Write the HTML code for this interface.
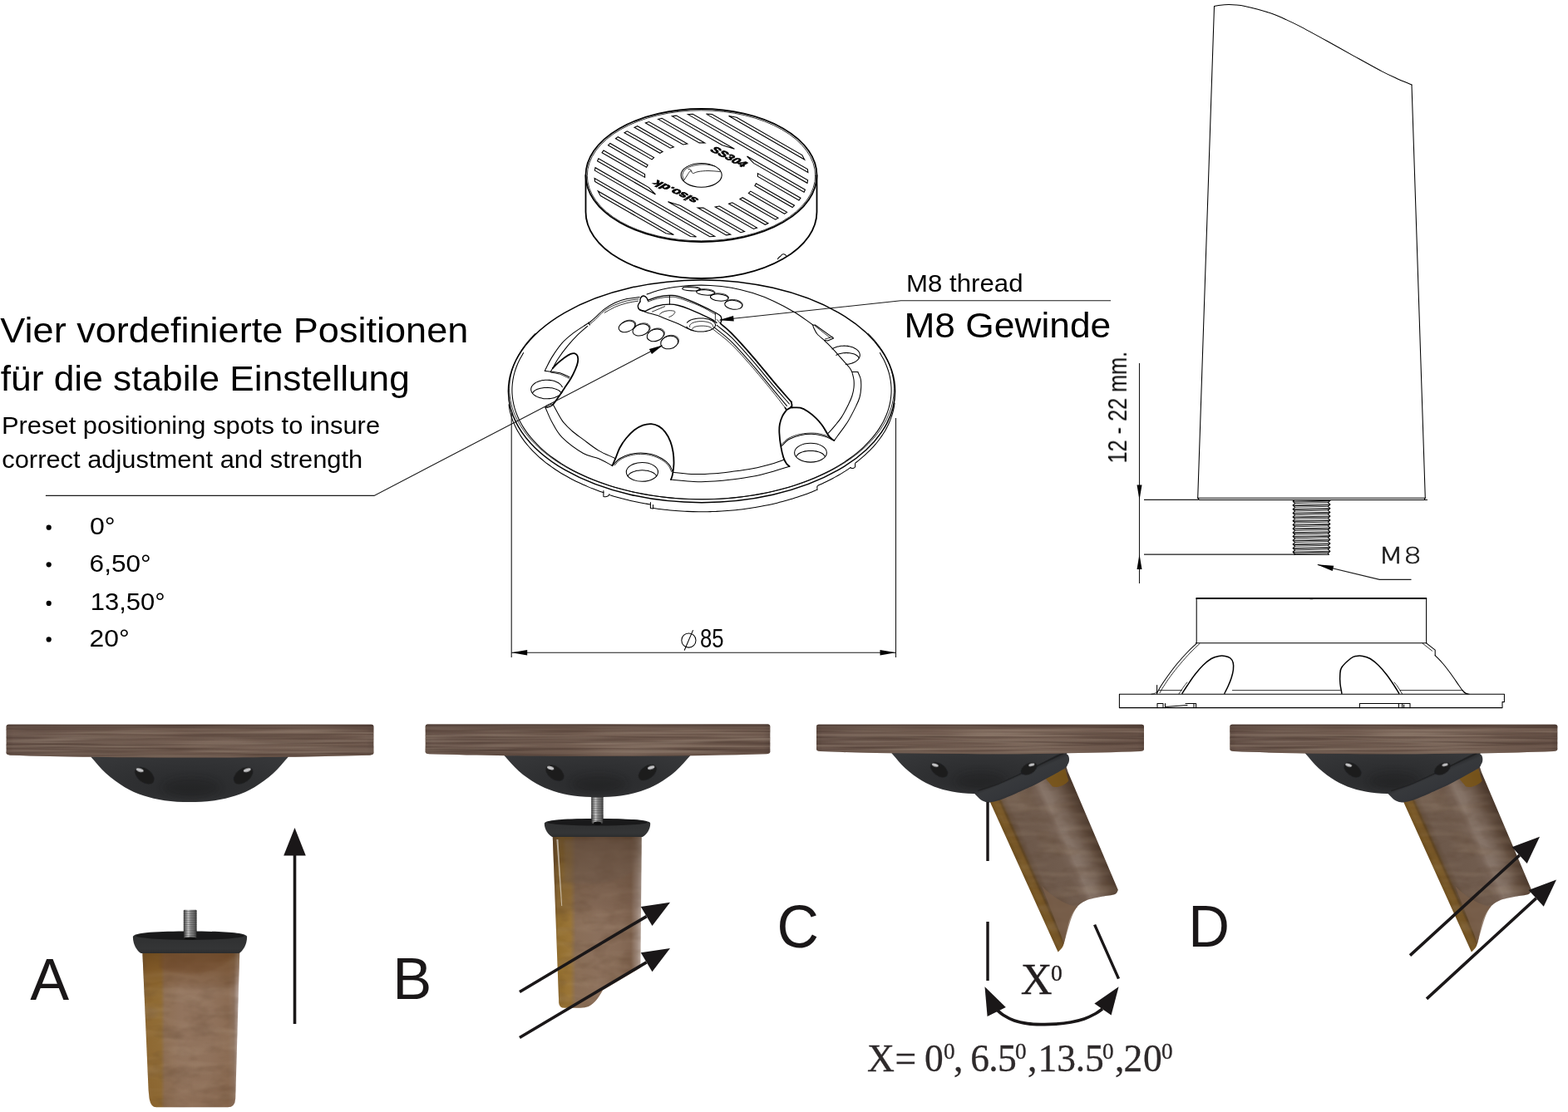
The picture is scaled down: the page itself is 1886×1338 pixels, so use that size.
<!DOCTYPE html>
<html lang="de">
<head>
<meta charset="utf-8">
<title>Vier vordefinierte Positionen</title>
<style>
html,body{margin:0;padding:0;background:#fff;}
body{width:1886px;height:1338px;overflow:hidden;}
svg{display:block;}
.l{fill:none;stroke:#000;stroke-width:1.05;stroke-linecap:round;stroke-linejoin:round;}
.t{fill:none;stroke:#000;stroke-width:1.8;stroke-linecap:round;stroke-linejoin:round;}
.t3{fill:none;stroke:#000;stroke-width:1.35;stroke-linecap:round;stroke-linejoin:round;}
.t2{fill:none;stroke:#000;stroke-width:1.5;}
.h{fill:none;stroke:#000;stroke-width:0.8;stroke-linecap:round;stroke-linejoin:round;}
.s{fill:none;stroke:#000;stroke-width:1.1;stroke-linejoin:miter;}
.d{fill:none;stroke:#1a1a1a;stroke-width:1.1;}
.k{fill:#000;stroke:none;}
.ar{fill:none;stroke:#1a1718;stroke-width:3.6;}
.ak{fill:#1a1718;stroke:none;}
</style>
</head>
<body>
<svg width="1886" height="1338" viewBox="0 0 1886 1338">
<rect width="1886" height="1338" fill="#fff"/>
<defs>
<linearGradient id="bw" x1="0" y1="0" x2="1" y2="0">
<stop offset="0" stop-color="#5c4940"/><stop offset="0.02" stop-color="#67534a"/><stop offset="0.25" stop-color="#6c584d"/>
<stop offset="0.48" stop-color="#745f53"/><stop offset="0.6" stop-color="#796458"/><stop offset="0.8" stop-color="#725d51"/><stop offset="0.98" stop-color="#6b564b"/><stop offset="1" stop-color="#5e4b42"/>
</linearGradient>
<linearGradient id="bv" x1="0" y1="0" x2="0" y2="1">
<stop offset="0" stop-color="#33241f" stop-opacity="0.5"/><stop offset="0.1" stop-color="#45322b" stop-opacity="0.32"/><stop offset="0.22" stop-color="#8a7060" stop-opacity="0.1"/>
<stop offset="0.5" stop-color="#6a5448" stop-opacity="0"/><stop offset="0.85" stop-color="#5a463c" stop-opacity="0.1"/><stop offset="1" stop-color="#4a382f" stop-opacity="0.28"/>
</linearGradient>
<filter id="grain" x="0" y="0" width="100%" height="100%" color-interpolation-filters="sRGB">
<feTurbulence type="fractalNoise" baseFrequency="0.005 0.22" numOctaves="3" seed="7" result="n"/>
<feColorMatrix in="n" type="matrix" values="0 0 0 0 0.27  0 0 0 0 0.2  0 0 0 0 0.17  0 0 0 -1.5 0.9" result="dk"/>
<feComposite in="dk" in2="SourceGraphic" operator="in" result="dkc"/>
<feTurbulence type="fractalNoise" baseFrequency="0.007 0.3" numOctaves="2" seed="23" result="n2"/>
<feColorMatrix in="n2" type="matrix" values="0 0 0 0 0.6  0 0 0 0 0.53  0 0 0 0 0.47  0 0 0 -1.4 0.82" result="lt"/>
<feComposite in="lt" in2="SourceGraphic" operator="in" result="ltc"/>
<feMerge><feMergeNode in="SourceGraphic"/><feMergeNode in="dkc"/><feMergeNode in="ltc"/></feMerge>
</filter>
<filter id="grainv" x="0" y="0" width="100%" height="100%" color-interpolation-filters="sRGB">
<feTurbulence type="fractalNoise" baseFrequency="0.035 0.06" numOctaves="3" seed="11" result="n"/>
<feColorMatrix in="n" type="matrix" values="0 0 0 0 0.3  0 0 0 0 0.2  0 0 0 0 0.12  0 0 0 -0.6 0.34" result="dk"/>
<feComposite in="dk" in2="SourceGraphic" operator="in" result="dkc"/>
<feTurbulence type="fractalNoise" baseFrequency="0.02 0.09" numOctaves="2" seed="5" result="n2"/>
<feColorMatrix in="n2" type="matrix" values="0 0 0 0 0.8  0 0 0 0 0.72  0 0 0 0 0.62  0 0 0 -0.4 0.22" result="lt"/>
<feComposite in="lt" in2="SourceGraphic" operator="in" result="ltc"/>
<feMerge><feMergeNode in="SourceGraphic"/><feMergeNode in="dkc"/><feMergeNode in="ltc"/></feMerge>
</filter>
<filter id="b1" x="-50%" y="-50%" width="200%" height="200%"><feGaussianBlur stdDeviation="0.7"/></filter>
<filter id="b2" x="-50%" y="-50%" width="200%" height="200%"><feGaussianBlur stdDeviation="1.6"/></filter>
<filter id="b4" x="-50%" y="-50%" width="200%" height="200%"><feGaussianBlur stdDeviation="4"/></filter>
<filter id="edge" x="-5%" y="-5%" width="110%" height="110%"><feGaussianBlur stdDeviation="0.6"/></filter>
<radialGradient id="dg" cx="0.5" cy="0.4" r="0.8" fx="0.5" fy="0.8">
<stop offset="0" stop-color="#28292b"/><stop offset="0.4" stop-color="#2f3032"/><stop offset="0.75" stop-color="#37383a"/><stop offset="1" stop-color="#3d3e40"/>
</radialGradient>
<linearGradient id="bg" x1="0" y1="0" x2="1" y2="0">
<stop offset="0" stop-color="#3c3c3c"/><stop offset="0.2" stop-color="#8e8e8e"/><stop offset="0.36" stop-color="#c6c6c6"/><stop offset="0.55" stop-color="#8a8a8a"/><stop offset="0.8" stop-color="#6a6a6a"/><stop offset="1" stop-color="#3a3a3a"/>
</linearGradient>
<linearGradient id="capg" x1="0" y1="0" x2="0" y2="1">
<stop offset="0" stop-color="#242526"/><stop offset="0.3" stop-color="#303132"/><stop offset="0.8" stop-color="#343536"/><stop offset="1" stop-color="#2b2c2d"/>
</linearGradient>
<linearGradient id="la" x1="0" y1="0" x2="1" y2="0">
<stop offset="0" stop-color="#7c5e34"/><stop offset="0.05" stop-color="#8a632a"/><stop offset="0.19" stop-color="#8d672e"/><stop offset="0.23" stop-color="#8a6a4e"/>
<stop offset="0.4" stop-color="#8e6f58"/><stop offset="0.7" stop-color="#8c6d56"/><stop offset="0.88" stop-color="#87674e"/><stop offset="0.94" stop-color="#8a6e5a"/><stop offset="0.975" stop-color="#a8948a"/><stop offset="1" stop-color="#c8bab4"/>
</linearGradient>
<linearGradient id="lav" gradientUnits="userSpaceOnUse" x1="0" y1="1146" x2="0" y2="1332">
<stop offset="0" stop-color="#5a3a16" stop-opacity="0.6"/><stop offset="0.1" stop-color="#6a4420" stop-opacity="0.42"/><stop offset="0.2" stop-color="#74502c" stop-opacity="0.15"/><stop offset="0.3" stop-color="#fff" stop-opacity="0.03"/><stop offset="1" stop-color="#7a5a40" stop-opacity="0.12"/>
</linearGradient>
<linearGradient id="lb" x1="0" y1="0" x2="1" y2="0">
<stop offset="0" stop-color="#70502a"/><stop offset="0.06" stop-color="#94702f"/><stop offset="0.2" stop-color="#9b7638"/><stop offset="0.26" stop-color="#8a6f59"/>
<stop offset="0.5" stop-color="#8c715e"/><stop offset="0.75" stop-color="#876c59"/><stop offset="0.88" stop-color="#806552"/><stop offset="0.95" stop-color="#a08c80"/><stop offset="1" stop-color="#c4b6ae"/>
</linearGradient>
<linearGradient id="lbv" gradientUnits="userSpaceOnUse" x1="0" y1="1006" x2="0" y2="1212">
<stop offset="0" stop-color="#3a2616" stop-opacity="0.55"/><stop offset="0.2" stop-color="#4a3422" stop-opacity="0.36"/><stop offset="0.4" stop-color="#5a4030" stop-opacity="0.22"/><stop offset="0.5" stop-color="#6a4a30" stop-opacity="0.04"/><stop offset="1" stop-color="#9a6a28" stop-opacity="0.06"/>
</linearGradient>
<linearGradient id="lc" gradientUnits="userSpaceOnUse" x1="1212" y1="1010" x2="1301" y2="970">
<stop offset="0" stop-color="#70501f"/><stop offset="0.04" stop-color="#7a5a28"/><stop offset="0.085" stop-color="#775626"/><stop offset="0.11" stop-color="#5f4522"/><stop offset="0.14" stop-color="#65503f"/><stop offset="0.2" stop-color="#6d594b"/>
<stop offset="0.5" stop-color="#705c4e"/><stop offset="0.57" stop-color="#756154"/><stop offset="0.64" stop-color="#877569"/><stop offset="0.7" stop-color="#847266"/><stop offset="0.8" stop-color="#746154"/><stop offset="0.9" stop-color="#5e4a3c"/><stop offset="1" stop-color="#4a382c"/>
</linearGradient>
<linearGradient id="band" gradientUnits="userSpaceOnUse" x1="1225" y1="928" x2="1236" y2="954">
<stop offset="0" stop-color="#27282a"/><stop offset="0.25" stop-color="#37393c"/><stop offset="0.7" stop-color="#34363a"/><stop offset="1" stop-color="#2a2b2e"/>
</linearGradient>
</defs>
<g id="figA">
<path d="M171.3,1145 L288.3,1145 L283.2,1322 Q282.6,1332.3 274,1332.3 L188,1332.3 Q181.5,1332.3 179.6,1322 L178.6,1312 Z" fill="url(#la)" filter="url(#grainv)"/>
<path d="M171.3,1145 L288.3,1145 L283.2,1322 Q282.6,1332.3 274,1332.3 L188,1332.3 Q181.5,1332.3 179.6,1322 L178.6,1312 Z" fill="url(#lav)"/>
<path d="M192,1146 L192,1164 C215,1176 262,1174 279,1152 L280,1146 Z" fill="#70492a" opacity="0.4" filter="url(#b2)"/>
<rect x="220.8" y="1094.8" width="15.8" height="29.2" rx="1" fill="url(#bg)"/>
<rect x="220.8" y="1096.13" width="15.8" height="1" fill="#303030" opacity="0.4"/>
<rect x="220.8" y="1098.78" width="15.8" height="1" fill="#303030" opacity="0.4"/>
<rect x="220.8" y="1101.44" width="15.8" height="1" fill="#303030" opacity="0.4"/>
<rect x="220.8" y="1104.09" width="15.8" height="1" fill="#303030" opacity="0.4"/>
<rect x="220.8" y="1106.75" width="15.8" height="1" fill="#303030" opacity="0.4"/>
<rect x="220.8" y="1109.4" width="15.8" height="1" fill="#303030" opacity="0.4"/>
<rect x="220.8" y="1112.05" width="15.8" height="1" fill="#303030" opacity="0.4"/>
<rect x="220.8" y="1114.71" width="15.8" height="1" fill="#303030" opacity="0.4"/>
<rect x="220.8" y="1117.36" width="15.8" height="1" fill="#303030" opacity="0.4"/>
<rect x="220.8" y="1120.02" width="15.8" height="1" fill="#303030" opacity="0.4"/>
<rect x="220.8" y="1122.67" width="15.8" height="1" fill="#303030" opacity="0.4"/>
<path d="M159.9,1127.46 C159.9,1121.8 190.77,1120.6 228.5,1120.6 C266.23,1120.6 297.1,1121.8 297.1,1127.46 C297.1,1136.26 292.5,1144 287.5,1147 L169.5,1147 C164.5,1144 159.9,1136.26 159.9,1127.46Z" fill="url(#capg)"/>
<ellipse cx="228.5" cy="1125.95" rx="65.1" ry="4.94" fill="#19191a"/>
<rect x="221.2" y="1118" width="15" height="11.5" rx="1" fill="url(#bg)"/>
<rect x="221.2" y="1119.44" width="15" height="1" fill="#303030" opacity="0.4"/>
<rect x="221.2" y="1122.31" width="15" height="1" fill="#303030" opacity="0.4"/>
<rect x="221.2" y="1125.19" width="15" height="1" fill="#303030" opacity="0.4"/>
<rect x="221.2" y="1128.06" width="15" height="1" fill="#303030" opacity="0.4"/>
<ellipse cx="228.7" cy="1129.3" rx="7.5" ry="1.8" fill="#111"/>
<path d="M109.3,910.8 C115.44,917.48 120.92,924.78 127.71,930.84 C134.49,936.91 142.56,942.81 150.02,947.21 C157.47,951.6 164.42,954.57 172.43,957.23 C180.43,959.89 188.77,961.86 198.04,963.16 C207.31,964.45 218.05,965 228.05,965 C238.05,965 248.79,964.45 258.06,963.16 C267.33,961.86 275.67,959.89 283.67,957.23 C291.68,954.57 298.63,951.6 306.08,947.21 C313.54,942.81 321.61,936.91 328.39,930.84 C335.18,924.78 340.66,917.48 346.8,910.8 L346.8,905.8 L109.3,905.8Z" fill="url(#dg)"/>
<ellipse cx="230.05" cy="947.62" rx="34.01" ry="12.27" fill="#1a1b1d" opacity="0.32" filter="url(#b4)"/>
<path d="M10.2,871.8 L446.8,871.8 Q449.4,871.8 449.4,874.4 L449.4,905.8 Q449.4,908.4 444.8,908.7 C325.7,912.4 131.3,912.4 12.2,908.7 Q7.6,908.4 7.6,905.8 L7.6,874.4 Q7.6,871.8 10.2,871.8Z" fill="url(#bw)" filter="url(#grain)"/>
<path d="M10.2,871.8 L446.8,871.8 Q449.4,871.8 449.4,874.4 L449.4,905.8 Q449.4,908.4 444.8,908.7 C325.7,912.4 131.3,912.4 12.2,908.7 Q7.6,908.4 7.6,905.8 L7.6,874.4 Q7.6,871.8 10.2,871.8Z" fill="url(#bv)"/>
<ellipse cx="173.9" cy="933.2" rx="13.2" ry="8.2" transform="rotate(37 173.9 933.2)" fill="#1b1c1e" filter="url(#b1)"/>
<ellipse cx="168.2" cy="926.6" rx="4.49" ry="2.13" transform="rotate(16.65 168.2 926.6)" fill="#c4c4c6" filter="url(#b1)"/>
<ellipse cx="292.6" cy="933.2" rx="13.2" ry="8.2" transform="rotate(-37 292.6 933.2)" fill="#1b1c1e" filter="url(#b1)"/>
<ellipse cx="297.3" cy="926.6" rx="4.49" ry="2.13" transform="rotate(-16.65 297.3 926.6)" fill="#c4c4c6" filter="url(#b1)"/>
<path class="ar" d="M354.5,1232 L354.5,1026"/>
<polygon class="ak" points="354.5,996 367.8,1029.6 341.2,1029.6"/>
</g>
<g id="figB">
<path d="M664.7,1005 L771.8,1005 L770.4,1164.5 L725,1191.6 C721,1199 716,1207 708,1211 Q704,1212.8 698,1212.8 L679,1212.8 Q672.6,1212.8 672.2,1206.5 Z" fill="url(#lb)" filter="url(#grainv)"/>
<path d="M664.7,1005 L771.8,1005 L770.4,1164.5 L725,1191.6 C721,1199 716,1207 708,1211 Q704,1212.8 698,1212.8 L679,1212.8 Q672.6,1212.8 672.2,1206.5 Z" fill="url(#lbv)"/>
<path d="M669.4,1010 L671.4,1010 L676.2,1090 L675.2,1090 Z" fill="#fff" opacity="0.55" filter="url(#b1)"/>
<path d="M679,1060 C700,1066 745,1066 762,1046 L762,1010 L679,1010Z" fill="#6e5a4e" opacity="0.35" filter="url(#b2)"/>
<rect x="711.2" y="955" width="14.4" height="37" rx="1" fill="url(#bg)"/>
<rect x="711.2" y="956.32" width="14.4" height="1" fill="#303030" opacity="0.4"/>
<rect x="711.2" y="958.96" width="14.4" height="1" fill="#303030" opacity="0.4"/>
<rect x="711.2" y="961.61" width="14.4" height="1" fill="#303030" opacity="0.4"/>
<rect x="711.2" y="964.25" width="14.4" height="1" fill="#303030" opacity="0.4"/>
<rect x="711.2" y="966.89" width="14.4" height="1" fill="#303030" opacity="0.4"/>
<rect x="711.2" y="969.54" width="14.4" height="1" fill="#303030" opacity="0.4"/>
<rect x="711.2" y="972.18" width="14.4" height="1" fill="#303030" opacity="0.4"/>
<rect x="711.2" y="974.82" width="14.4" height="1" fill="#303030" opacity="0.4"/>
<rect x="711.2" y="977.46" width="14.4" height="1" fill="#303030" opacity="0.4"/>
<rect x="711.2" y="980.11" width="14.4" height="1" fill="#303030" opacity="0.4"/>
<rect x="711.2" y="982.75" width="14.4" height="1" fill="#303030" opacity="0.4"/>
<rect x="711.2" y="985.39" width="14.4" height="1" fill="#303030" opacity="0.4"/>
<rect x="711.2" y="988.04" width="14.4" height="1" fill="#303030" opacity="0.4"/>
<rect x="711.2" y="990.68" width="14.4" height="1" fill="#303030" opacity="0.4"/>
<path d="M606.6,909.3 C612.38,915.45 617.54,922.17 623.93,927.75 C630.32,933.34 637.92,938.77 644.93,942.82 C651.95,946.87 658.5,949.6 666.03,952.04 C673.57,954.49 681.42,956.31 690.14,957.51 C698.87,958.7 708.98,959.2 718.4,959.2 C727.82,959.2 737.93,958.7 746.66,957.51 C755.38,956.31 763.23,954.49 770.77,952.04 C778.3,949.6 784.85,946.87 791.87,942.82 C798.88,938.77 806.48,933.34 812.87,927.75 C819.26,922.17 824.42,915.45 830.2,909.3 L830.2,904.3 L606.6,904.3Z" fill="url(#dg)"/>
<ellipse cx="720.28" cy="943.19" rx="32.02" ry="11.3" fill="#1a1b1d" opacity="0.32" filter="url(#b4)"/>
<path d="M514.3,871.6 L923.7,871.6 Q926.3,871.6 926.3,874.2 L926.3,904.4 Q926.3,907 921.7,907.3 C810.21,910.73 627.79,910.73 516.3,907.3 Q511.7,907 511.7,904.4 L511.7,874.2 Q511.7,871.6 514.3,871.6Z" fill="url(#bw)" filter="url(#grain)"/>
<path d="M514.3,871.6 L923.7,871.6 Q926.3,871.6 926.3,874.2 L926.3,904.4 Q926.3,907 921.7,907.3 C810.21,910.73 627.79,910.73 516.3,907.3 Q511.7,907 511.7,904.4 L511.7,874.2 Q511.7,871.6 514.3,871.6Z" fill="url(#bv)"/>
<ellipse cx="667.4" cy="930" rx="12.4" ry="7.7" transform="rotate(37 667.4 930)" fill="#1b1c1e" filter="url(#b1)"/>
<ellipse cx="662.2" cy="924" rx="4.22" ry="2" transform="rotate(16.65 662.2 924)" fill="#c4c4c6" filter="url(#b1)"/>
<ellipse cx="778.8" cy="929.4" rx="12.4" ry="7.7" transform="rotate(-37 778.8 929.4)" fill="#1b1c1e" filter="url(#b1)"/>
<ellipse cx="783.2" cy="923.6" rx="4.22" ry="2" transform="rotate(-16.65 783.2 923.6)" fill="#c4c4c6" filter="url(#b1)"/>
<path d="M654.8,990.65 C654.8,986.1 683.47,984.9 718.5,984.9 C753.53,984.9 782.2,986.1 782.2,990.65 C782.2,998.01 777.9,1004 772.9,1007 L664.1,1007 C659.1,1004 654.8,998.01 654.8,990.65Z" fill="url(#capg)"/>
<ellipse cx="718.5" cy="989.38" rx="60.2" ry="4.14" fill="#19191a"/>
<rect x="711.6" y="980" width="13.6" height="10.8" rx="1" fill="url(#bg)"/>
<rect x="711.6" y="981.35" width="13.6" height="1" fill="#303030" opacity="0.4"/>
<rect x="711.6" y="984.05" width="13.6" height="1" fill="#303030" opacity="0.4"/>
<rect x="711.6" y="986.75" width="13.6" height="1" fill="#303030" opacity="0.4"/>
<rect x="711.6" y="989.45" width="13.6" height="1" fill="#303030" opacity="0.4"/>
<ellipse cx="718.6" cy="990.4" rx="4.6" ry="2" fill="#0e0e0e"/>
<path class="ar" d="M625,1193.5 L777.65,1102.59"/>
<polygon class="ak" points="806,1085.7 784.5,1114.1 770.79,1091.07"/>
<path class="ar" d="M625,1248.5 L777.63,1157.85"/>
<polygon class="ak" points="806,1141 784.47,1169.37 770.78,1146.33"/>
</g>
<g id="figC">
<path d="M1188.6,960 L1272.6,1145.6 L1272.6,1145.6 C1274.67,1143.07 1277.12,1142 1278.8,1138 C1280.48,1134 1281.4,1126.93 1282.7,1121.6 C1284,1116.27 1284.65,1110.87 1286.6,1106 C1288.55,1101.13 1291.17,1096.12 1294.4,1092.4 C1297.63,1088.68 1300.82,1085.97 1306,1083.7 C1311.18,1081.43 1319.67,1080.1 1325.5,1078.8 C1331.33,1077.5 1337.77,1077.2 1341,1075.9 C1344.23,1074.6 1343.6,1072.63 1344.9,1071 L1284.7,929.2 L1280,915 Z" fill="url(#lc)" filter="url(#grainv)"/>
<path d="M1257,936 L1281,925 L1285.4,939.5 C1281,945 1272,948.4 1266,946.6 Z" fill="#7a5418" opacity="0.85" filter="url(#b1)"/>
<path d="M1253,1066 C1264,1078 1282,1089 1296,1091 C1288,1100 1284,1122 1279.5,1136 L1276,1125 Z" fill="#7a5f49" opacity="0.75" filter="url(#b1)"/>
<path d="M1072.6,906.6 C1078.05,912.59 1082.92,919.13 1088.94,924.57 C1094.96,930.01 1102.12,935.3 1108.74,939.24 C1115.35,943.19 1121.53,945.85 1128.63,948.23 C1135.73,950.62 1143.13,952.39 1151.36,953.55 C1159.59,954.71 1169.12,955.2 1178,955.2 C1186.88,955.2 1196.41,954.71 1204.64,953.55 C1212.87,952.39 1220.27,950.62 1227.37,948.23 C1234.47,945.85 1240.65,943.19 1247.26,939.24 C1253.88,935.3 1261.04,930.01 1267.06,924.57 C1273.08,919.13 1277.95,912.59 1283.4,906.6 L1283.4,901.6 L1072.6,901.6Z" fill="url(#dg)"/>
<ellipse cx="1179.78" cy="939.61" rx="30.19" ry="11" fill="#1a1b1d" opacity="0.32" filter="url(#b4)"/>
<ellipse cx="1129.6" cy="926.3" rx="11.8" ry="7.3" transform="rotate(37 1129.6 926.3)" fill="#1b1c1e" filter="url(#b1)"/>
<ellipse cx="1124.8" cy="920.6" rx="4.01" ry="1.9" transform="rotate(16.65 1124.8 920.6)" fill="#c4c4c6" filter="url(#b1)"/>
<path d="M1169.5,952 C1176.33,950.17 1181.75,949.42 1190,946.5 C1198.25,943.58 1209,939 1219,934.5 C1229,930 1241.83,923.58 1250,919.5 C1258.17,915.42 1263.5,912.25 1268,910 C1272.5,907.75 1274,907.33 1277,906 L1282,906.4 C1283.07,907.4 1284.53,908.05 1285.2,909.4 C1285.87,910.75 1286.13,912.82 1286,914.5 C1285.87,916.18 1285.6,917.65 1284.4,919.5 C1283.2,921.35 1284.92,921.72 1278.8,925.6 C1272.68,929.48 1255.83,938.57 1247.7,942.8 C1239.57,947.03 1236.47,948.08 1230,951 C1223.53,953.92 1214.57,958.03 1208.9,960.3 C1203.23,962.57 1199.57,963.78 1196,964.6 C1192.43,965.42 1190.17,965.57 1187.5,965.2 C1184.83,964.83 1182.27,963.8 1180,962.4 C1177.73,961 1175.93,958.67 1173.9,956.8Z" fill="url(#band)"/>
<path d="M1176,951.5 C1184,948.83 1191,947.08 1200,943.5 C1209,939.92 1220,934.67 1230,930 C1240,925.33 1251.83,919.42 1260,915.5 C1268.17,911.58 1272.67,909.5 1279,906.5" fill="none" stroke="#1c1d1f" stroke-width="1.6" opacity="0.7" filter="url(#b1)"/>
<ellipse cx="1237.6" cy="925" rx="10.6" ry="6.4" transform="rotate(-30 1237.6 925)" fill="#1b1c1e" filter="url(#b1)"/>
<ellipse cx="1240.8" cy="920.2" rx="3.6" ry="1.66" transform="rotate(-13.5 1240.8 920.2)" fill="#c4c4c6" filter="url(#b1)"/>
<path d="M984.6,871.8 L1373.4,871.8 Q1376,871.8 1376,874.4 L1376,901.2 Q1376,903.8 1371.4,904.1 C1265.68,908.33 1092.32,908.33 986.6,904.1 Q982,903.8 982,901.2 L982,874.4 Q982,871.8 984.6,871.8Z" fill="url(#bw)" filter="url(#grain)"/>
<path d="M984.6,871.8 L1373.4,871.8 Q1376,871.8 1376,874.4 L1376,901.2 Q1376,903.8 1371.4,904.1 C1265.68,908.33 1092.32,908.33 986.6,904.1 Q982,903.8 982,901.2 L982,874.4 Q982,871.8 984.6,871.8Z" fill="url(#bv)"/>
<path class="ar" style="stroke-width:3.4" d="M1188,965 L1188,1036 M1188,1109 L1188,1180 M1316.6,1112.6 L1345.5,1177.6"/>
<path class="ar" style="stroke-width:3.7" d="M1198,1214 C1201,1216.5 1203.33,1219.17 1207,1221.5 C1210.67,1223.83 1215.17,1226.32 1220,1228 C1224.83,1229.68 1230.67,1230.83 1236,1231.6 C1241.33,1232.37 1246.33,1232.5 1252,1232.6 C1257.67,1232.7 1264,1232.63 1270,1232.2 C1276,1231.77 1282.33,1231.03 1288,1230 C1293.67,1228.97 1299,1227.75 1304,1226 C1309,1224.25 1314.33,1221.5 1318,1219.5 C1321.67,1217.5 1323.33,1215.83 1326,1214"/>
<polygon class="ak" points="1184.5,1187.2 1187.6,1223 1209.8,1212"/>
<polygon class="ak" points="1345.6,1187.2 1316.4,1207.6 1336.6,1221.6"/>
</g>
<g id="figD" transform="translate(497.3,0)">
<path d="M1188.6,960 L1272.6,1145.6 L1272.6,1145.6 C1274.67,1143.07 1277.12,1142 1278.8,1138 C1280.48,1134 1281.4,1126.93 1282.7,1121.6 C1284,1116.27 1284.65,1110.87 1286.6,1106 C1288.55,1101.13 1291.17,1096.12 1294.4,1092.4 C1297.63,1088.68 1300.82,1085.97 1306,1083.7 C1311.18,1081.43 1319.67,1080.1 1325.5,1078.8 C1331.33,1077.5 1337.77,1077.2 1341,1075.9 C1344.23,1074.6 1343.6,1072.63 1344.9,1071 L1284.7,929.2 L1280,915 Z" fill="url(#lc)" filter="url(#grainv)"/>
<path d="M1257,936 L1281,925 L1285.4,939.5 C1281,945 1272,948.4 1266,946.6 Z" fill="#7a5418" opacity="0.85" filter="url(#b1)"/>
<path d="M1253,1066 C1264,1078 1282,1089 1296,1091 C1288,1100 1284,1122 1279.5,1136 L1276,1125 Z" fill="#7a5f49" opacity="0.75" filter="url(#b1)"/>
<path d="M1072.6,906.6 C1078.05,912.59 1082.92,919.13 1088.94,924.57 C1094.96,930.01 1102.12,935.3 1108.74,939.24 C1115.35,943.19 1121.53,945.85 1128.63,948.23 C1135.73,950.62 1143.13,952.39 1151.36,953.55 C1159.59,954.71 1169.12,955.2 1178,955.2 C1186.88,955.2 1196.41,954.71 1204.64,953.55 C1212.87,952.39 1220.27,950.62 1227.37,948.23 C1234.47,945.85 1240.65,943.19 1247.26,939.24 C1253.88,935.3 1261.04,930.01 1267.06,924.57 C1273.08,919.13 1277.95,912.59 1283.4,906.6 L1283.4,901.6 L1072.6,901.6Z" fill="url(#dg)"/>
<ellipse cx="1179.78" cy="939.61" rx="30.19" ry="11" fill="#1a1b1d" opacity="0.32" filter="url(#b4)"/>
<ellipse cx="1129.6" cy="926.3" rx="11.8" ry="7.3" transform="rotate(37 1129.6 926.3)" fill="#1b1c1e" filter="url(#b1)"/>
<ellipse cx="1124.8" cy="920.6" rx="4.01" ry="1.9" transform="rotate(16.65 1124.8 920.6)" fill="#c4c4c6" filter="url(#b1)"/>
<path d="M1169.5,952 C1176.33,950.17 1181.75,949.42 1190,946.5 C1198.25,943.58 1209,939 1219,934.5 C1229,930 1241.83,923.58 1250,919.5 C1258.17,915.42 1263.5,912.25 1268,910 C1272.5,907.75 1274,907.33 1277,906 L1282,906.4 C1283.07,907.4 1284.53,908.05 1285.2,909.4 C1285.87,910.75 1286.13,912.82 1286,914.5 C1285.87,916.18 1285.6,917.65 1284.4,919.5 C1283.2,921.35 1284.92,921.72 1278.8,925.6 C1272.68,929.48 1255.83,938.57 1247.7,942.8 C1239.57,947.03 1236.47,948.08 1230,951 C1223.53,953.92 1214.57,958.03 1208.9,960.3 C1203.23,962.57 1199.57,963.78 1196,964.6 C1192.43,965.42 1190.17,965.57 1187.5,965.2 C1184.83,964.83 1182.27,963.8 1180,962.4 C1177.73,961 1175.93,958.67 1173.9,956.8Z" fill="url(#band)"/>
<path d="M1176,951.5 C1184,948.83 1191,947.08 1200,943.5 C1209,939.92 1220,934.67 1230,930 C1240,925.33 1251.83,919.42 1260,915.5 C1268.17,911.58 1272.67,909.5 1279,906.5" fill="none" stroke="#1c1d1f" stroke-width="1.6" opacity="0.7" filter="url(#b1)"/>
<ellipse cx="1237.6" cy="925" rx="10.6" ry="6.4" transform="rotate(-30 1237.6 925)" fill="#1b1c1e" filter="url(#b1)"/>
<ellipse cx="1240.8" cy="920.2" rx="3.6" ry="1.66" transform="rotate(-13.5 1240.8 920.2)" fill="#c4c4c6" filter="url(#b1)"/>
<path d="M984.6,871.8 L1373.4,871.8 Q1376,871.8 1376,874.4 L1376,901.2 Q1376,903.8 1371.4,904.1 C1265.68,908.33 1092.32,908.33 986.6,904.1 Q982,903.8 982,901.2 L982,874.4 Q982,871.8 984.6,871.8Z" fill="url(#bw)" filter="url(#grain)"/>
<path d="M984.6,871.8 L1373.4,871.8 Q1376,871.8 1376,874.4 L1376,901.2 Q1376,903.8 1371.4,904.1 C1265.68,908.33 1092.32,908.33 986.6,904.1 Q982,903.8 982,901.2 L982,874.4 Q982,871.8 984.6,871.8Z" fill="url(#bv)"/>
<path class="ar" d="M1198.7,1149.7 L1330.37,1029.09"/>
<polygon class="ak" points="1354.7,1006.8 1339.42,1038.97 1321.31,1019.21"/>
<path class="ar" d="M1218.7,1201.8 L1350.4,1080.82"/>
<polygon class="ak" points="1374.7,1058.5 1359.46,1090.69 1341.33,1070.96"/>
</g>
<g id="disc" style="opacity:0.999">
<ellipse class="t" cx="843.5" cy="211.0" rx="139.0" ry="79.99"/>
<ellipse class="h" cx="843.5" cy="211.3" rx="137.2" ry="78.49"/>
<path class="t" d="M704.5,211.0 L704.5,255.0 A139.0,79.99 0 0 0 982.5,255.0 L982.5,211.0" />
<path class="l" d="M935.5,311.8 C936,309.5 938.5,309 939.5,307.5 C941,305 944,305.5 945.5,307.5" style="fill:#fff"/>
<ellipse class="l" cx="843.6" cy="210.8" rx="24.6" ry="14.4"/>
<path class="h" d="M822.5,217 C822,214.5 820.42,211.92 821,209.5 C821.58,207.08 823.17,204.33 826,202.5 C828.83,200.67 834,199.25 838,198.5 C842,197.75 846.33,197.75 850,198 C853.67,198.25 856.67,199.33 860,200" />
<path class="h" d="M823,216.5 C824.17,214.67 825.42,212.67 826.5,211 C827.58,209.33 828.67,207.33 829.5,206.5 C830.33,205.67 830.83,205.67 831.5,206 C832.17,206.33 832.08,208.42 833.5,208.5 C834.92,208.58 836.92,207 840,206.5 C843.08,206 847.67,205.5 852,205.5 C856.33,205.5 861.33,206.17 866,206.5" />
<path class="h" d="M828,203.5 C828.83,203.67 829.92,203.58 830.5,204 C831.08,204.42 831.17,205.33 831.5,206" />
<path class="s" d="M722.23,235.46 L801,280.79 L810.4,282.46 L719.34,230.05Z" />
<path class="s" d="M715.66,218.48 L830.51,284.57 L837.53,284.87 L715.14,214.44Z" />
<path class="s" d="M715.4,205.14 L853.69,284.72 L859.59,284.37 L716.01,201.74Z" />
<path class="s" d="M718.55,193.75 L788.47,233.99 L780.42,225.61 L719.9,190.78Z" />
<path class="s" d="M803.56,242.67 L873.48,282.91 L878.63,282.13 L818.11,247.3Z" />
<path class="s" d="M724.06,183.72 L775.63,213.4 L775.54,209.61 L725.98,181.09Z" />
<path class="s" d="M839.33,250.06 L890.9,279.74 L895.48,278.63 L845.92,250.11Z" />
<path class="s" d="M731.46,174.79 L777.6,201.34 L779.09,198.45 L733.87,172.43Z" />
<path class="s" d="M860.28,248.92 L906.43,275.48 L910.53,274.09 L865.3,248.07Z" />
<path class="s" d="M740.49,166.79 L784.14,191.91 L786.6,189.58 L743.33,164.68Z" />
<path class="s" d="M876.68,245.16 L920.32,270.28 L923.99,268.65 L880.73,243.75Z" />
<path class="s" d="M751.02,159.65 L793.82,184.28 L797.07,182.41 L754.28,157.78Z" />
<path class="s" d="M889.93,239.59 L932.72,264.22 L935.98,262.35 L893.18,237.72Z" />
<path class="s" d="M763.01,153.35 L806.27,178.25 L810.32,176.84 L766.68,151.72Z" />
<path class="s" d="M900.4,232.42 L943.67,257.32 L946.51,255.21 L902.86,230.09Z" />
<path class="s" d="M776.47,147.91 L821.7,173.93 L826.72,173.08 L780.57,146.52Z" />
<path class="s" d="M907.91,223.55 L953.13,249.57 L955.54,247.21 L909.4,220.66Z" />
<path class="s" d="M791.52,143.37 L841.08,171.89 L847.67,171.94 L796.1,142.26Z" />
<path class="s" d="M911.46,212.39 L961.02,240.91 L962.94,238.28 L911.37,208.6Z" />
<path class="s" d="M808.37,139.87 L868.89,174.7 L883.44,179.33 L813.52,139.09Z" />
<path class="s" d="M906.58,196.39 L967.1,231.22 L968.45,228.25 L898.53,188.01Z" />
<path class="s" d="M827.41,137.63 L970.99,220.26 L971.6,216.86 L833.31,137.28Z" />
<path class="s" d="M849.47,137.13 L971.86,207.56 L971.34,203.52 L856.49,137.43Z" />
<path class="s" d="M876.6,139.54 L967.66,191.95 L964.77,186.54 L886,141.21Z" />
<text transform="translate(873.5,191.5) rotate(27) skewX(-20)" font-family='"Liberation Sans", Arial, sans-serif' font-size="11.5" font-weight="bold" font-style="italic" text-anchor="middle" fill="#000" stroke="#000" stroke-width="0.7" textLength="45" lengthAdjust="spacingAndGlyphs">SS304</text>
<text transform="translate(815.5,228) rotate(205) skewX(-20)" font-family='"Liberation Sans", Arial, sans-serif' font-size="11.5" font-weight="bold" font-style="italic" text-anchor="middle" fill="#000" stroke="#000" stroke-width="0.7" textLength="56" lengthAdjust="spacingAndGlyphs">siso.dk</text>
</g>
<g id="base">
<ellipse class="t2" cx="844" cy="470.8" rx="232.6" ry="133.86"/>
<path class="h" d="M1044.31,401.14 C1046.84,403.88 1049.53,406.57 1051.89,409.35 C1054.25,412.13 1056.44,414.97 1058.46,417.83 C1060.47,420.7 1062.32,423.62 1063.98,426.57 C1065.64,429.51 1067.13,432.49 1068.43,435.5 C1069.73,438.5 1070.85,441.54 1071.79,444.59 C1072.72,447.63 1073.47,450.71 1074.03,453.79 C1074.6,456.86 1074.97,459.96 1075.16,463.05 C1075.35,466.15 1075.35,469.25 1075.16,472.35 C1074.97,475.44 1074.6,478.54 1074.03,481.61 C1073.47,484.69 1072.72,487.77 1071.79,490.81 C1070.85,493.86 1069.73,496.9 1068.43,499.9 C1067.13,502.91 1065.64,505.89 1063.98,508.83 C1062.32,511.78 1060.47,514.7 1058.46,517.57 C1056.44,520.43 1054.25,523.27 1051.89,526.05 C1049.53,528.83 1047,531.58 1044.31,534.26 C1041.62,536.94 1038.76,539.57 1035.76,542.14 C1032.75,544.7 1029.58,547.21 1026.27,549.65 C1022.96,552.09 1019.49,554.47 1015.89,556.77 C1012.29,559.07 1008.54,561.3 1004.67,563.45 C1000.81,565.6 996.8,567.68 992.68,569.67 C988.56,571.66 984.31,573.57 979.95,575.39 C975.6,577.21 971.13,578.95 966.57,580.59 C962.01,582.23 957.34,583.78 952.59,585.23 C947.84,586.69 942.99,588.05 938.08,589.3 C933.16,590.56 928.16,591.73 923.11,592.79 C918.06,593.84 912.92,594.8 907.75,595.66 C902.59,596.51 897.35,597.26 892.09,597.9 C886.83,598.55 881.52,599.09 876.19,599.52 C870.86,599.95 865.5,600.27 860.13,600.49 C854.77,600.7 849.38,600.81 844,600.81 C838.62,600.81 833.23,600.7 827.87,600.49 C822.5,600.27 817.14,599.95 811.81,599.52 C806.48,599.09 801.17,598.55 795.91,597.9 C790.65,597.26 785.41,596.51 780.25,595.66 C775.08,594.8 769.94,593.84 764.89,592.79 C759.84,591.73 754.84,590.56 749.92,589.3 C745.01,588.05 740.16,586.69 735.41,585.23 C730.66,583.78 725.99,582.23 721.43,580.59 C716.87,578.95 712.4,577.21 708.05,575.39 C703.69,573.57 699.44,571.66 695.32,569.67 C691.2,567.68 687.19,565.6 683.33,563.45 C679.46,561.3 675.71,559.07 672.11,556.77 C668.51,554.47 665.04,552.09 661.73,549.65 C658.42,547.21 655.25,544.7 652.24,542.14 C649.24,539.57 646.38,536.94 643.69,534.26 C641,531.58 638.47,528.83 636.11,526.05 C633.75,523.27 631.56,520.43 629.54,517.57 C627.53,514.7 625.68,511.78 624.02,508.83 C622.36,505.89 620.87,502.91 619.57,499.9 C618.27,496.9 617.15,493.86 616.21,490.81 C615.28,487.77 614.53,484.69 613.97,481.61 C613.4,478.54 613.03,475.44 612.84,472.35 C612.65,469.25 612.65,466.15 612.84,463.05 C613.03,459.96 613.4,456.86 613.97,453.79 C614.53,450.71 615.28,447.63 616.21,444.59 C617.15,441.54 618.27,438.5 619.57,435.5 C620.87,432.49 622.36,429.51 624.02,426.57 C625.68,423.62 627.53,420.7 629.54,417.83 C631.56,414.97 633.75,412.13 636.11,409.35 C638.47,406.57 641.16,403.88 643.69,401.14" />
<path class="l" d="M1058.34,424.6 C1059.86,427.26 1061.53,429.9 1062.89,432.58 C1064.26,435.27 1065.48,437.98 1066.55,440.71 C1067.61,443.45 1068.53,446.2 1069.29,448.96 C1070.05,451.73 1070.66,454.51 1071.11,457.3 C1071.56,460.08 1071.86,462.88 1072,465.68 C1072.14,468.48 1072.13,471.28 1071.96,474.08 C1071.79,476.88 1071.47,479.68 1070.99,482.46 C1070.51,485.25 1069.87,488.03 1069.08,490.79 C1068.29,493.55 1067.35,496.3 1066.25,499.03 C1065.16,501.76 1063.91,504.47 1062.52,507.15 C1061.12,509.83 1059.58,512.49 1057.89,515.11 C1056.2,517.74 1054.36,520.34 1052.38,522.89 C1050.4,525.45 1048.28,527.97 1046.02,530.45 C1043.76,532.93 1041.36,535.37 1038.83,537.76 C1036.3,540.15 1033.64,542.5 1030.85,544.79 C1028.06,547.09 1025.14,549.33 1022.1,551.52 C1019.06,553.7 1015.9,555.84 1012.62,557.9 C1009.35,559.97 1005.95,561.98 1002.45,563.93 C998.95,565.87 995.34,567.76 991.63,569.57 C987.93,571.38 984.11,573.12 980.21,574.8 C976.31,576.47 972.31,578.07 968.23,579.59 C964.15,581.12 959.98,582.57 955.74,583.94 C951.5,585.31 947.18,586.61 942.8,587.82 C938.42,589.03 933.96,590.16 929.45,591.21 C924.94,592.26 920.36,593.23 915.75,594.11 C911.13,594.99 906.46,595.79 901.75,596.49 C897.05,597.2 892.3,597.83 887.52,598.36 C882.75,598.89 877.94,599.34 873.12,599.7 C868.29,600.05 863.44,600.32 858.59,600.5 C853.73,600.68 848.86,600.77 844,600.77 C839.14,600.77 834.27,600.68 829.41,600.5 C824.56,600.32 819.71,600.05 814.88,599.7 C810.06,599.34 805.25,598.89 800.48,598.36 C795.7,597.83 790.95,597.2 786.25,596.49 C781.54,595.79 776.87,594.99 772.25,594.11 C767.64,593.23 763.06,592.26 758.55,591.21 C754.04,590.16 749.58,589.03 745.2,587.82 C740.82,586.61 736.5,585.31 732.26,583.94 C728.02,582.57 723.85,581.12 719.77,579.59 C715.69,578.07 711.69,576.47 707.79,574.8 C703.89,573.12 700.07,571.38 696.37,569.57 C692.66,567.76 689.05,565.87 685.55,563.93 C682.05,561.98 678.65,559.97 675.38,557.9 C672.1,555.84 668.94,553.7 665.9,551.52 C662.86,549.33 659.94,547.09 657.15,544.79 C654.36,542.5 651.7,540.15 649.17,537.76 C646.64,535.37 644.24,532.93 641.98,530.45 C639.72,527.97 637.6,525.45 635.62,522.89 C633.64,520.34 631.8,517.74 630.11,515.11 C628.42,512.49 626.88,509.83 625.48,507.15 C624.09,504.47 622.84,501.76 621.75,499.03 C620.65,496.3 619.71,493.55 618.92,490.79 C618.13,488.03 617.49,485.25 617.01,482.46 C616.53,479.68 616.21,476.88 616.04,474.08 C615.87,471.28 615.86,468.48 616,465.68 C616.14,462.88 616.44,460.08 616.89,457.3 C617.34,454.51 617.95,451.73 618.71,448.96 C619.47,446.2 620.39,443.45 621.45,440.71 C622.52,437.98 623.74,435.27 625.11,432.58 C626.47,429.9 628.14,427.26 629.66,424.6" />
<path class="l" d="M982.68,589.37 C980.81,590.14 978.96,590.93 977.07,591.69 C975.18,592.45 973.27,593.19 971.34,593.92 C969.41,594.64 967.46,595.35 965.5,596.05 C963.53,596.74 961.55,597.42 959.55,598.08 C957.55,598.73 955.53,599.38 953.5,600 C951.46,600.63 949.41,601.23 947.35,601.82 C945.28,602.41 943.2,602.98 941.11,603.54 C939.02,604.09 936.91,604.63 934.78,605.14 C932.66,605.66 930.53,606.16 928.38,606.64 C926.23,607.12 924.07,607.59 921.9,608.03 C919.73,608.48 917.54,608.9 915.35,609.31 C913.16,609.71 910.95,610.1 908.74,610.47 C906.52,610.84 904.3,611.19 902.07,611.52 C899.84,611.85 897.6,612.17 895.35,612.46 C893.1,612.75 890.84,613.03 888.58,613.28 C886.32,613.53 884.05,613.77 881.78,613.98 C879.5,614.2 877.22,614.4 874.94,614.57 C872.65,614.75 870.36,614.91 868.07,615.04 C865.78,615.18 863.48,615.3 861.18,615.4 C858.89,615.49 856.58,615.57 854.28,615.63 C851.98,615.69 849.67,615.73 847.37,615.75 C845.06,615.77 842.76,615.77 840.45,615.75 C838.15,615.73 835.85,615.69 833.54,615.63 C831.24,615.57 828.94,615.49 826.64,615.39 C824.34,615.29 822.05,615.17 819.75,615.03 C817.46,614.89 815.17,614.74 812.89,614.56 C810.6,614.38 808.32,614.18 806.05,613.97 C803.78,613.75 801.51,613.52 799.25,613.26 C796.98,613 794.73,612.73 792.48,612.44 C790.23,612.14 788,611.81 785.76,611.5" />
<path class="l" d="M782.23,606.96 C780.55,606.68 778.87,606.41 777.2,606.12 C775.53,605.83 773.86,605.53 772.2,605.22 C770.54,604.91 768.89,604.59 767.24,604.26 C765.59,603.93 763.95,603.59 762.31,603.23 C760.68,602.88 759.05,602.52 757.43,602.14 C755.81,601.77 754.2,601.39 752.59,600.99 C750.99,600.6 749.39,600.19 747.8,599.78 C746.21,599.36 744.63,598.94 743.06,598.5 C741.49,598.06 739.92,597.62 738.37,597.16 C736.81,596.7 735.27,596.23 733.73,595.76" />
<path class="l" d="M725.95,592.74 C723.81,591.99 721.65,591.26 719.54,590.49 C717.42,589.71 715.33,588.92 713.26,588.11 C711.19,587.3 709.14,586.48 707.12,585.63 C705.09,584.78 703.09,583.91 701.12,583.03 C699.14,582.14 697.19,581.24 695.27,580.32 C693.34,579.4 691.44,578.46 689.57,577.5 C687.7,576.54 685.85,575.57 684.04,574.58 C682.22,573.59 680.43,572.58 678.67,571.56 C676.91,570.53 675.17,569.49 673.47,568.44 C671.77,567.38 670.1,566.31 668.45,565.22 C666.81,564.13 665.2,563.03 663.62,561.91 C662.04,560.8 660.49,559.66 658.97,558.52 C657.46,557.37 655.97,556.21 654.52,555.04 C653.07,553.87 651.65,552.68 650.26,551.48 C648.88,550.28 647.53,549.06 646.21,547.84 C644.89,546.61 643.61,545.38 642.36,544.13 C641.11,542.88 639.9,541.62 638.72,540.35 C637.54,539.08 636.4,537.79 635.3,536.5 C634.19,535.21 633.12,533.9 632.09,532.59 C631.06,531.28 630.06,529.96 629.11,528.63 C628.15,527.3 627.23,525.96 626.34,524.61 C625.46,523.26 624.62,521.9 623.81,520.54 C623,519.18 622.23,517.8 621.5,516.43 C620.77,515.05 620.08,513.66 619.43,512.27 C618.78,510.88 618.17,509.48 617.59,508.08 C617.02,506.68 616.48,505.27 615.99,503.86 C615.49,502.45 615.04,501.03 614.62,499.61 C614.21,498.19 613.83,496.76 613.5,495.34 C613.16,493.91 612.87,492.48 612.61,491.04 C612.36,489.61 612.18,488.17 611.97,486.74" />
<path class="l" d="M1023.22,562.53 C1022.08,563.3 1020.96,564.08 1019.81,564.84 C1018.66,565.61 1017.49,566.37 1016.31,567.12 C1015.13,567.87 1013.93,568.61 1012.72,569.34 C1011.51,570.08 1010.29,570.8 1009.05,571.52 C1007.81,572.24 1006.55,572.95 1005.29,573.65 C1004.02,574.36 1002.74,575.05 1001.44,575.73 C1000.15,576.42 998.84,577.1 997.52,577.77 C996.19,578.43 994.86,579.09 993.51,579.74 C992.16,580.39 990.8,581.04 989.43,581.67 C988.06,582.3 986.66,582.92 985.28,583.54" />
<path class="l" d="M1076.03,485.14 C1075.88,486.21 1075.75,487.29 1075.57,488.37 C1075.4,489.44 1075.2,490.52 1074.98,491.59 C1074.75,492.66 1074.51,493.74 1074.24,494.81 C1073.98,495.88 1073.69,496.94 1073.38,498.01 C1073.06,499.07 1072.73,500.14 1072.37,501.2 C1072.02,502.26 1071.64,503.32 1071.24,504.37 C1070.84,505.43 1070.42,506.48 1069.97,507.53 C1069.53,508.58 1069.06,509.63 1068.57,510.67 C1068.08,511.71 1067.57,512.75 1067.04,513.79 C1066.5,514.83 1065.95,515.86 1065.37,516.89 C1064.8,517.92 1064.2,518.94 1063.58,519.96 C1062.96,520.98 1062.32,522 1061.66,523.01 C1060.99,524.02 1060.31,525.03 1059.61,526.03 C1058.9,527.03 1058.18,528.02 1057.43,529.02 C1056.68,530.01 1055.92,530.99 1055.13,531.97 C1054.34,532.96 1053.53,533.93 1052.7,534.9 C1051.87,535.87 1051.02,536.83 1050.15,537.79 C1049.29,538.75 1048.4,539.7 1047.49,540.65 C1046.58,541.59 1045.65,542.53 1044.7,543.46 C1043.75,544.4 1042.78,545.32 1041.79,546.24 C1040.8,547.16 1039.8,548.07 1038.77,548.98 C1037.74,549.88 1036.7,550.78 1035.63,551.67 C1034.57,552.56 1033.49,553.44 1032.39,554.32 C1031.28,555.19 1030.15,556.05 1029.03,556.92" />
<path class="l" d="M725.9,590.4 L725.9,597.4 C729,598.2 732.4,597.4 732.9,594.6" />
<path class="l" d="M782.4,604.4 L782.4,611.4 L785.5,612 L785.5,607.6" />
<path class="l" d="M982.9,589.4 L982.9,585.2 L984.9,583.6" />
<path class="l" d="M1023.3,562.8 C1025,564.3 1027.5,563.4 1028.6,561.8 L1028.6,557.6" />
<path class="l" d="M655.3,446.3 C658.03,441 660.02,436.02 663.5,430.4 C666.98,424.78 671.95,417.47 676.2,412.6 C680.45,407.73 684.33,404.8 689,401.2 C693.67,397.6 700.93,393.13 704.2,391 C707.47,388.87 707.13,389.27 708.6,388.4" />
<path class="l" d="M664.8,443.1 C666.93,439.3 668.23,436.15 671.2,431.7 C674.17,427.25 678.58,421.28 682.6,416.4 C686.62,411.52 691.28,406.42 695.3,402.4 C699.32,398.38 702.9,395.67 706.7,392.3" />
<path class="l" d="M708.2,388.8 C710.27,387 711.25,386.22 714.4,383.4 C717.55,380.58 722.87,375.08 727.1,371.9 C731.33,368.72 735.32,366.35 739.8,364.3 C744.28,362.25 749.1,360.72 754,359.6 C758.9,358.48 764.13,358.27 769.2,357.6" />
<path class="h" d="M709.2,390.3 C711.47,388.4 713.02,387.35 716,384.6 C718.98,381.85 723.13,376.77 727.1,373.8 C731.07,370.83 735.32,368.77 739.8,366.8 C744.28,364.83 749.3,363.17 754,362 C758.7,360.83 763.33,360.53 768,359.8" />
<path class="h" d="M727.1,376.3 C731.33,374 735.32,371.35 739.8,369.4 C744.28,367.45 749.38,365.8 754,364.6 C758.62,363.4 763,363 767.5,362.2" />
<path class="l" d="M707.6,388 L709.4,391" />
<path class="l" d="M778.1,354.1 C782.07,352.73 785.77,351.22 790,350 C794.23,348.78 797.02,347.87 803.5,346.8 C809.98,345.73 820.42,344.17 828.9,343.6 C837.38,343.03 845.92,342.97 854.4,343.4 C862.88,343.83 871.3,344.67 879.8,346.2 C888.3,347.73 896.9,349.9 905.4,352.6 C913.9,355.3 922.33,358.5 930.8,362.4 C939.27,366.3 948.37,371.23 956.2,376 C964.03,380.77 970.6,386 977.8,391" />
<path class="l" d="M977.8,391.6 C978.2,392.73 978.13,393.27 979,395 C979.87,396.73 980.87,399.57 983,402 C985.13,404.43 988.87,407.07 991.8,409.6" />
<path class="l" d="M977.8,391.3 L980.4,391 L1002.6,406.9 L995.6,410 L991.8,409.4" />
<path class="h" d="M980.4,392.3 L998.2,406.2 M992.4,408 L1001.5,405.4" />
<path class="l" d="M991.8,409.8 C995.2,413.27 998.4,416.35 1002,420.2 C1005.6,424.05 1010.15,429.27 1013.4,432.9 C1016.65,436.53 1019.6,439.57 1021.5,442 C1023.4,444.43 1023.7,445.67 1024.8,447.5" />
<path class="l" d="M1024.8,447.5 L1031.8,447.5" />
<path class="l" d="M1031.8,447.5 C1032.93,450.33 1034.55,452.83 1035.2,456 C1035.85,459.17 1035.9,462.83 1035.7,466.5 C1035.5,470.17 1034.97,474.4 1034,478 C1033.03,481.6 1032.27,483.23 1029.9,488.1 C1027.53,492.97 1023.6,501.05 1019.8,507.2 C1016,513.35 1009.85,521.18 1007.1,525 C1004.35,528.82 1004.57,528.4 1003.3,530.1" />
<path class="l" d="M1024.8,447.5 C1025.53,450.67 1026.63,453.83 1027,457 C1027.37,460.17 1027.33,463.33 1027,466.5 C1026.67,469.67 1026,472.82 1025,476 C1024,479.18 1023.15,481.25 1021,485.6 C1018.85,489.95 1015.27,497.23 1012.1,502.1 C1008.93,506.97 1004.63,511.62 1002,514.8 C999.37,517.98 998.2,519.07 996.3,521.2" />
<path class="l" d="M949.6,561.2 C943.33,563.1 938.17,564.88 930.8,566.9 C923.43,568.92 913.87,571.6 905.4,573.3 C896.93,575 887.6,576.15 880,577.1 C872.4,578.05 867.4,578.58 859.8,579 C852.2,579.42 843.2,579.92 834.4,579.6 C825.6,579.28 816.13,577.93 807,577.1" />
<path class="l" d="M942.9,553.2 C938.87,554.6 937.05,555.65 930.8,557.4 C924.55,559.15 913.87,562.02 905.4,563.7 C896.93,565.38 887.6,566.5 880,567.5 C872.4,568.5 867.4,569.2 859.8,569.7 C852.2,570.2 842.62,570.72 834.4,570.5 C826.18,570.28 818.47,569.1 810.5,568.4" />
<path class="l" d="M655.9,490.2 C658.6,496.13 660.62,501.97 664,508 C667.38,514.03 669.93,520.15 676.2,526.4 C682.47,532.65 694.3,541.28 701.6,545.5 C708.9,549.72 714.18,549.23 720,551.7 C725.82,554.17 731,557.43 736.5,560.3" />
<path class="l" d="M665.4,487 C669,493.37 672.43,500.85 676.2,506.1 C679.97,511.35 683.77,514.7 688,518.5 C692.23,522.3 696.27,524.97 701.6,528.9 C706.93,532.83 713.55,538.3 720,542.1 C726.45,545.9 733.53,548.5 740.3,551.7" />
<path class="l" d="M655.9,490.2 C658,489.5 662,488.5 665.4,486.6" />
<ellipse class="h" cx="660.6" cy="488.3" rx="4.6" ry="1.6" transform="rotate(-18 660.6 488.3)"/>
<path class="t" d="M664.8,443.1 C666.93,440.97 668.87,438.82 671.2,436.7 C673.53,434.58 676.27,432.2 678.8,430.4 C681.33,428.6 684.28,426.75 686.4,425.9 C688.52,425.05 690.12,424.87 691.5,425.3 C692.88,425.73 694.12,426.8 694.7,428.5 C695.28,430.2 695.43,432.85 695,435.5 C694.57,438.15 693.53,441.02 692.1,444.4 C690.67,447.78 688.62,452 686.4,455.8 C684.18,459.6 681.33,463.4 678.8,467.2 C676.27,471 673.43,475.4 671.2,478.6 C668.97,481.8 667.33,483.8 665.4,486.4" />
<path class="l" d="M655.3,446.3 L662.3,447.2 L664.8,443.1" />
<path class="l" d="M662.3,446.9 C666.1,447.53 669.9,447.63 673.7,448.8 C677.5,449.97 681.3,452.2 685.1,453.9" />
<path class="h" d="M662.6,448.2 C666.2,448.87 669.77,449.03 673.4,450.2 C677.03,451.37 680.73,453.53 684.4,455.2" />
<path class="l" d="M676.33,471.23 C676.05,471.75 675.82,472.28 675.47,472.79 C675.12,473.29 674.71,473.78 674.24,474.25 C673.77,474.72 673.24,475.17 672.66,475.6 C672.09,476.02 671.45,476.42 670.78,476.79 C670.1,477.16 669.38,477.5 668.62,477.81 C667.86,478.12 667.06,478.4 666.23,478.64 C665.41,478.88 664.55,479.09 663.67,479.25 C662.8,479.42 661.89,479.55 660.99,479.64 C660.08,479.73 659.15,479.78 658.23,479.8 C657.31,479.81 656.38,479.78 655.47,479.72 C654.56,479.65 653.65,479.54 652.76,479.4 C651.87,479.26 651,479.07 650.15,478.85 C649.31,478.64 648.49,478.38 647.71,478.09 C646.93,477.81 646.17,477.48 645.47,477.13 C644.77,476.78 644.1,476.39 643.49,475.99 C642.89,475.58 642.32,475.14 641.82,474.69 C641.31,474.23 640.86,473.75 640.48,473.26 C640.09,472.76 639.76,472.25 639.5,471.73 C639.23,471.21 639.03,470.67 638.9,470.13 C638.77,469.59 638.7,469.04 638.7,468.5 C638.7,467.96 638.77,467.41 638.9,466.87 C639.03,466.33 639.23,465.79 639.5,465.27 C639.76,464.75 640.09,464.24 640.48,463.74 C640.86,463.25 641.31,462.77 641.82,462.31 C642.32,461.86 642.89,461.42 643.49,461.01 C644.1,460.61 644.77,460.22 645.47,459.87 C646.17,459.52 646.93,459.19 647.71,458.91 C648.49,458.62 649.31,458.36 650.15,458.15 C651,457.93 651.87,457.74 652.76,457.6 C653.65,457.46 654.56,457.35 655.47,457.28 C656.38,457.22 657.31,457.19 658.23,457.2 C659.15,457.22 660.08,457.27 660.99,457.36 C661.89,457.45 662.8,457.58 663.67,457.75 C664.55,457.91 665.41,458.12 666.23,458.36 C667.06,458.6 667.86,458.88 668.62,459.19 C669.38,459.5 670.1,459.84 670.78,460.21 C671.45,460.58 672.09,460.98 672.66,461.4 C673.24,461.83 673.77,462.28 674.24,462.75 C674.71,463.22 675.12,463.71 675.47,464.21 C675.82,464.72 676.05,465.25 676.33,465.77" />
<path class="l" d="M640.47,473.18 C640.73,472.72 640.91,472.25 641.25,471.81 C641.59,471.37 642.02,470.94 642.52,470.53 C643.02,470.12 643.6,469.73 644.24,469.37 C644.89,469.01 645.6,468.67 646.37,468.36 C647.13,468.06 647.97,467.78 648.83,467.54 C649.7,467.3 650.62,467.1 651.56,466.93 C652.51,466.77 653.49,466.64 654.48,466.55 C655.47,466.46 656.49,466.41 657.49,466.4 C658.5,466.39 659.52,466.43 660.52,466.5 C661.51,466.57 662.5,466.68 663.46,466.84 C664.41,466.99 665.35,467.18 666.23,467.4 C667.11,467.63 667.97,467.89 668.76,468.18 C669.54,468.47 670.29,468.8 670.96,469.15 C671.62,469.5 672.24,469.89 672.77,470.29 C673.3,470.68 673.76,471.11 674.13,471.54 C674.51,471.98 674.72,472.45 675.02,472.9" />
<path class="t" d="M736.5,560.3 C737.77,557.43 738.82,555.25 740.3,551.7 C741.78,548.15 743.28,543.03 745.4,539 C747.52,534.97 750.03,531.12 753,527.5 C755.97,523.88 759.8,519.95 763.2,517.3 C766.6,514.65 770.02,512.8 773.4,511.6 C776.78,510.4 780.33,509.88 783.5,510.1 C786.67,510.32 789.63,511.27 792.4,512.9 C795.17,514.53 797.77,516.83 800.1,519.9 C802.43,522.97 804.82,527.28 806.4,531.3 C807.98,535.32 808.92,539.55 809.6,544 C810.28,548.45 810.6,553.55 810.5,558 C810.4,562.45 809.58,567.52 809,570.7 C808.42,573.88 807.67,574.97 807,577.1" />
<path class="l" d="M737.8,559.3 C740.33,556.77 742.02,553.82 745.4,551.7 C748.78,549.58 753.87,547.72 758.1,546.6 C762.33,545.48 766.57,545 770.8,545 C775.03,545 779.27,545.48 783.5,546.6 C787.73,547.72 792.6,549.58 796.2,551.7 C799.8,553.82 802.98,556.77 805.1,559.3 C807.22,561.83 807.63,564.37 808.9,566.9" />
<path class="h" d="M739.5,559.8 C741.67,557.53 742.9,554.97 746,553 C749.1,551.03 753.97,549.1 758.1,548 C762.23,546.9 766.57,546.4 770.8,546.4 C775.03,546.4 779.37,546.9 783.5,548 C787.63,549.1 792.18,550.95 795.6,553 C799.02,555.05 802,557.88 804,560.3 C806,562.72 806.4,565.1 807.6,567.5" />
<ellipse class="l" cx="772.4" cy="567.9" rx="19.1" ry="11.4"/>
<path class="l" d="M755.38,572.61 C755.67,572.15 755.87,571.66 756.24,571.21 C756.6,570.76 757.05,570.32 757.56,569.91 C758.08,569.49 758.67,569.09 759.32,568.73 C759.97,568.36 760.69,568.02 761.45,567.72 C762.21,567.41 763.04,567.13 763.9,566.9 C764.75,566.66 765.67,566.46 766.59,566.29 C767.52,566.13 768.49,566.01 769.45,565.92 C770.42,565.84 771.42,565.8 772.4,565.8 C773.38,565.8 774.38,565.84 775.35,565.92 C776.31,566.01 777.28,566.13 778.21,566.29 C779.13,566.46 780.05,566.66 780.9,566.9 C781.76,567.13 782.59,567.41 783.35,567.72 C784.11,568.02 784.83,568.36 785.48,568.73 C786.13,569.09 786.72,569.49 787.24,569.91 C787.75,570.32 788.2,570.76 788.56,571.21 C788.93,571.66 789.13,572.15 789.42,572.61" />
<path class="t" d="M953.1,490.4 C956.27,490.5 959.53,489.92 962.6,490.7 C965.67,491.48 968.32,492.98 971.5,495.1 C974.68,497.22 978.73,500.53 981.7,503.4 C984.67,506.27 986.98,509.13 989.3,512.3 C991.62,515.47 993.92,519.87 995.6,522.4 C997.28,524.93 998.12,526.22 999.4,527.5 C1000.68,528.78 1002,529.23 1003.3,530.1" />
<path class="t" d="M946.1,493.2 C944.4,495.73 942.38,497.83 941,500.8 C939.62,503.77 938.4,507.6 937.8,511 C937.2,514.4 937.18,516.97 937.4,521.2 C937.62,525.43 938.28,531.53 939.1,536.4 C939.92,541.27 941.13,546.8 942.3,550.4 C943.47,554 944.88,556.2 946.1,558 C947.32,559.8 948.43,560.13 949.6,561.2" />
<path class="l" d="M940.4,536.4 C943.13,533.87 944.9,530.92 948.6,528.8 C952.3,526.68 957.52,524.77 962.6,523.7 C967.68,522.63 974.23,522.18 979.1,522.4 C983.97,522.62 987.98,523.83 991.8,525 C995.62,526.17 998.6,527.93 1002,529.4" />
<path class="h" d="M939.8,535 C942.6,532.5 944.43,529.6 948.2,527.5 C951.97,525.4 957.25,523.47 962.4,522.4 C967.55,521.33 974.17,520.9 979.1,521.1 C984.03,521.3 988.43,522.55 992,523.6 C995.57,524.65 997.67,526.13 1000.5,527.4" />
<path class="h" d="M989.3,512.3 C990.87,515.2 992.63,518.72 994,521 C995.37,523.28 996.17,524.6 997.5,526 C998.83,527.4 1000.5,528.27 1002,529.4" />
<ellipse class="l" cx="975" cy="544.7" rx="19.4" ry="11.4"/>
<path class="l" d="M957.78,549.21 C958.07,548.75 958.28,548.26 958.65,547.81 C959.02,547.36 959.47,546.92 959.99,546.51 C960.51,546.09 961.11,545.69 961.77,545.33 C962.42,544.96 963.15,544.62 963.92,544.32 C964.7,544.01 965.53,543.73 966.4,543.5 C967.27,543.26 968.19,543.06 969.12,542.89 C970.06,542.73 971.04,542.61 972.02,542.52 C973,542.44 974.01,542.4 975,542.4 C975.99,542.4 977,542.44 977.98,542.52 C978.96,542.61 979.94,542.73 980.88,542.89 C981.81,543.06 982.73,543.26 983.6,543.5 C984.47,543.73 985.3,544.01 986.08,544.32 C986.85,544.62 987.58,544.96 988.23,545.33 C988.89,545.69 989.49,546.09 990.01,546.51 C990.53,546.92 990.98,547.36 991.35,547.81 C991.72,548.26 991.93,548.75 992.22,549.21" />
<path class="l" d="M1000.96,419.95 C1001.44,419.66 1001.89,419.36 1002.39,419.08 C1002.89,418.81 1003.42,418.55 1003.97,418.31 C1004.52,418.07 1005.09,417.85 1005.68,417.64 C1006.27,417.44 1006.88,417.25 1007.5,417.09 C1008.13,416.92 1008.77,416.77 1009.42,416.65 C1010.07,416.53 1010.73,416.42 1011.4,416.34 C1012.07,416.26 1012.75,416.19 1013.43,416.15 C1014.11,416.11 1014.8,416.1 1015.48,416.1 C1016.17,416.1 1016.85,416.13 1017.53,416.18 C1018.21,416.22 1018.89,416.29 1019.56,416.38 C1020.22,416.47 1020.88,416.59 1021.53,416.72 C1022.17,416.85 1022.81,417 1023.43,417.18 C1024.05,417.35 1024.65,417.54 1025.24,417.75 C1025.82,417.96 1026.38,418.19 1026.92,418.44 C1027.47,418.69 1027.99,418.95 1028.48,419.23 C1028.97,419.51 1029.44,419.81 1029.88,420.12 C1030.32,420.43 1030.73,420.75 1031.11,421.09 C1031.49,421.42 1031.84,421.77 1032.15,422.13 C1032.47,422.49 1032.75,422.86 1033,423.23 C1033.25,423.61 1033.46,423.99 1033.64,424.38 C1033.82,424.77 1033.96,425.17 1034.07,425.56 C1034.18,425.96 1034.25,426.37 1034.28,426.77 C1034.31,427.17 1034.31,427.58 1034.27,427.98 C1034.22,428.38 1034.14,428.78 1034.03,429.18 C1033.92,429.58 1033.76,429.97 1033.58,430.36 C1033.39,430.75 1033.17,431.13 1032.91,431.51 C1032.65,431.88 1032.36,432.25 1032.04,432.6 C1031.71,432.96 1031.36,433.3 1030.97,433.63 C1030.58,433.97 1030.16,434.29 1029.72,434.59 C1029.27,434.9 1028.8,435.19 1028.3,435.47 C1027.8,435.74 1027.27,436.01 1026.73,436.25 C1026.18,436.49 1025.61,436.72 1025.02,436.92 C1024.44,437.13 1023.83,437.32 1023.2,437.48 C1022.58,437.65 1021.94,437.8 1021.29,437.93 C1020.65,438.06 1019.98,438.16 1019.31,438.25 C1018.65,438.33 1017.96,438.37 1017.29,438.44" />
<path class="l" d="M1005.76,427.37 C1006.35,427.07 1006.88,426.75 1007.51,426.49 C1008.14,426.22 1008.83,425.97 1009.54,425.75 C1010.26,425.54 1011.03,425.34 1011.81,425.19 C1012.6,425.03 1013.42,424.9 1014.25,424.81 C1015.08,424.71 1015.94,424.65 1016.79,424.62 C1017.64,424.59 1018.51,424.59 1019.36,424.63 C1020.21,424.67 1021.06,424.74 1021.89,424.85 C1022.71,424.95 1023.53,425.09 1024.3,425.25 C1025.08,425.42 1025.84,425.62 1026.54,425.84 C1027.25,426.06 1027.93,426.32 1028.54,426.6 C1029.16,426.87 1029.73,427.18 1030.25,427.5 C1030.76,427.82 1031.21,428.16 1031.6,428.52 C1031.99,428.87 1032.32,429.25 1032.58,429.63 C1032.84,430.01 1032.96,430.41 1033.15,430.8" />
<path class="t" d="M867,389.7 C871.33,393.53 873.6,394.63 880,401.2 C886.4,407.77 896.93,419.37 905.4,429.1 C913.87,438.83 923.07,450.5 930.8,459.6 C938.53,468.7 944.8,475.67 951.8,483.7" />
<path class="l" d="M862,391.2 C868,396.2 872.77,399.03 880,406.2 C887.23,413.37 896.93,424.45 905.4,434.2 C913.87,443.95 923.47,456.07 930.8,464.7 C938.13,473.33 943.2,478.9 949.4,486" />
<path class="l" d="M858.8,393.6 C865.87,399.5 872.23,403.68 880,411.3 C887.77,418.92 896.93,429.55 905.4,439.3 C913.87,449.05 923.97,461.62 930.8,469.8 C937.63,477.98 941.2,482.2 946.4,488.4" />
<path class="h" d="M857.5,396 C865,402.17 872.02,406.77 880,414.5 C887.98,422.23 896.93,432.65 905.4,442.4 C913.87,452.15 924.28,464.93 930.8,473 C937.32,481.07 939.93,484.87 944.5,490.8" />
<path class="t" d="M951.8,483.7 L952.6,488 L950.6,490.6 L953.1,490.4 M944.5,490.8 L946.1,493.2 L950.6,490.6" />
<path class="t3" d="M769.9,363 C770.1,361.53 769.87,359.77 770.5,358.6 C771.13,357.43 772.53,356.1 773.7,356 C774.87,355.9 776.55,357.03 777.5,358 C778.45,358.97 778.77,360.53 779.4,361.8" />
<path class="t3" d="M779.4,361.1 C783.2,359.83 786.47,358.25 790.8,357.3 C795.13,356.35 801.17,355.5 805.4,355.4 C809.63,355.3 810.15,354.8 816.2,356.7 C822.25,358.6 834.07,363.42 841.7,366.8 C849.33,370.18 857.77,374.67 862,377 C866.23,379.33 866.15,379.32 867.1,380.8 C868.05,382.28 867.82,384.52 867.7,385.9 C867.58,387.28 866.83,388.03 866.4,389.1" />
<path class="h" d="M779.4,363 C783.2,361.73 786.47,360.15 790.8,359.2 C795.13,358.25 801.17,357.4 805.4,357.3 C809.63,357.2 810.15,356.8 816.2,358.6 C822.25,360.4 834.28,364.82 841.7,368.1 C849.12,371.38 854.37,374.9 860.7,378.3" />
<path class="l" d="M805.4,355.4 L805.4,366.2" />
<path class="h" d="M860.4,376.5 L860.4,385.5 M866.4,389.1 L862.3,384.5" />
<path class="t3" d="M769.9,363 C769.03,364.7 767.42,366.5 767.3,368.1 C767.18,369.7 767.82,371.53 769.2,372.6 C770.58,373.67 773.47,373.87 775.6,374.5" />
<path class="t3" d="M775.6,374.5 C780.67,372.37 785.83,369.48 790.8,368.1 C795.77,366.72 801.2,366.3 805.4,366.2 C809.6,366.1 812.08,366.55 816,367.5 C819.92,368.45 822.5,369.25 828.9,371.9 C835.3,374.55 848.88,380.65 854.4,383.4 C859.92,386.15 859.47,386.73 862,388.4" />
<path class="l" d="M769.2,372.6 C772.13,373.73 774.4,374.83 778,376 C781.6,377.17 786.63,378.18 790.8,379.6 C794.97,381.02 798.77,382.82 803,384.5 C807.23,386.18 811.88,387.77 816.2,389.7 C820.52,391.63 825.93,394.78 828.9,396.1 C831.87,397.42 832.3,397.1 834,397.6" />
<path class="h" d="M784.5,375.1 L799.7,368.7" />
<path class="h" d="M793.4,378.3 C794.6,377.37 795.32,376.25 797,375.5 C798.68,374.75 801.42,374.05 803.5,373.8 C805.58,373.55 808.12,373.78 809.5,374 C810.88,374.22 811.55,374.52 811.8,375.1 C812.05,375.68 811.63,376.68 811,377.5 C810.37,378.32 809.03,379.33 808,380 C806.97,380.67 805.87,381 804.8,381.5" />
<path class="l" d="M826.36,388.23 C826.74,387.84 827.06,387.44 827.51,387.07 C827.96,386.7 828.47,386.34 829.04,386.01 C829.61,385.67 830.24,385.36 830.92,385.07 C831.59,384.78 832.32,384.51 833.09,384.28 C833.85,384.04 834.67,383.83 835.5,383.65 C836.34,383.47 837.21,383.32 838.1,383.21 C838.98,383.09 839.9,383.01 840.81,382.96 C841.73,382.91 842.66,382.89 843.58,382.91 C844.5,382.92 845.43,382.97 846.33,383.06 C847.24,383.14 848.14,383.26 849,383.4 C849.86,383.55 850.71,383.73 851.51,383.94 C852.32,384.14 853.09,384.38 853.82,384.65 C854.54,384.91 855.22,385.2 855.85,385.51 C856.47,385.82 857.05,386.16 857.56,386.52 C858.07,386.87 858.52,387.25 858.9,387.63 C859.29,388.02 859.61,388.42 859.86,388.83 C860.1,389.24 860.28,389.66 860.39,390.08 C860.49,390.5 860.52,390.93 860.48,391.35 C860.44,391.78 860.33,392.2 860.14,392.62 C859.96,393.03 859.7,393.45 859.38,393.84 C859.06,394.24 858.66,394.63 858.21,395 C857.75,395.37 857.23,395.72 856.65,396.05 C856.08,396.39 855.44,396.7 854.76,396.99 C854.08,397.27 853.34,397.53 852.57,397.77 C851.8,398 850.98,398.21 850.14,398.38 C849.31,398.56 848.43,398.7 847.54,398.81 C846.65,398.93 845.73,399.01 844.82,399.05 C843.9,399.1 842.97,399.11 842.05,399.09 C841.13,399.07 840.2,399.02 839.3,398.93 C838.4,398.84 837.5,398.72 836.64,398.57 C835.78,398.42 834.94,398.24 834.14,398.02 C833.34,397.81 832.57,397.57 831.85,397.3 C831.13,397.04 830.45,396.74 829.84,396.43 C829.22,396.11 828.65,395.77 828.15,395.42 C827.65,395.06 827.2,394.69 826.83,394.3 C826.45,393.91 826.21,393.5 825.9,393.1" />
<path class="h" d="M829.71,393.41 C829.64,393.13 829.53,392.86 829.51,392.59 C829.49,392.32 829.51,392.04 829.58,391.77 C829.66,391.5 829.77,391.22 829.94,390.96 C830.1,390.7 830.31,390.43 830.57,390.18 C830.82,389.93 831.12,389.68 831.45,389.45 C831.79,389.21 832.17,388.98 832.58,388.77 C832.99,388.56 833.45,388.35 833.93,388.17 C834.41,387.98 834.93,387.81 835.47,387.65 C836.01,387.49 836.58,387.35 837.17,387.23 C837.76,387.1 838.38,387 839,386.91 C839.62,386.82 840.27,386.75 840.92,386.7 C841.57,386.65 842.23,386.62 842.89,386.61 C843.55,386.59 844.22,386.6 844.87,386.63 C845.53,386.65 846.19,386.7 846.83,386.77 C847.47,386.83 848.1,386.92 848.72,387.02 C849.33,387.12 849.93,387.24 850.5,387.38 C851.07,387.51 851.62,387.67 852.14,387.84 C852.66,388.01 853.16,388.19 853.61,388.39 C854.07,388.59 854.5,388.8 854.88,389.02 C855.26,389.24 855.61,389.48 855.92,389.72 C856.22,389.96 856.49,390.22 856.71,390.48 C856.93,390.73 857.1,391 857.23,391.27 C857.36,391.54 857.44,391.81 857.48,392.08 C857.52,392.36 857.46,392.63 857.45,392.91" />
<path class="h" d="M833.04,395.8 C833.05,395.57 832.99,395.34 833.08,395.11 C833.16,394.89 833.33,394.66 833.57,394.44 C833.81,394.23 834.13,394.01 834.51,393.82 C834.89,393.62 835.35,393.43 835.85,393.26 C836.36,393.09 836.94,392.93 837.55,392.79 C838.16,392.65 838.83,392.53 839.53,392.43 C840.22,392.34 840.96,392.26 841.71,392.2 C842.45,392.15 843.23,392.11 844,392.1 C844.77,392.09 845.55,392.11 846.31,392.14 C847.07,392.18 847.83,392.24 848.55,392.32 C849.27,392.4 849.98,392.5 850.63,392.62 C851.28,392.74 851.9,392.89 852.45,393.04 C853.01,393.2 853.52,393.38 853.96,393.57 C854.39,393.75 854.77,393.96 855.08,394.16 C855.38,394.37 855.61,394.6 855.77,394.82 C855.92,395.04 855.92,395.27 856,395.5" />
<ellipse class="l" cx="754" cy="392.9" rx="10.1" ry="6.3" transform="rotate(-19 754 392.9)"/>
<path class="h" d="M745.6,391.87 C745.88,391.4 746.09,390.93 746.42,390.47 C746.75,390.02 747.15,389.56 747.6,389.14 C748.04,388.72 748.55,388.31 749.09,387.93 C749.63,387.56 750.22,387.2 750.83,386.9 C751.44,386.59 752.09,386.31 752.74,386.08 C753.4,385.85 754.08,385.66 754.75,385.52 C755.42,385.37 756.11,385.28 756.76,385.23 C757.42,385.18 758.08,385.18 758.7,385.23 C759.31,385.28 759.92,385.38 760.47,385.53 C761.02,385.67 761.54,385.87 762,386.1 C762.46,386.33 762.88,386.61 763.23,386.92 C763.58,387.23 763.88,387.59 764.1,387.96 C764.33,388.34 764.49,388.75 764.58,389.18 C764.67,389.6 764.69,390.05 764.64,390.51 C764.59,390.97 764.47,391.44 764.29,391.91 C764.1,392.37 763.79,392.84 763.53,393.31" />
<ellipse class="l" cx="771.1" cy="396.9" rx="10.3" ry="6.7" transform="rotate(-18 771.1 396.9)"/>
<path class="h" d="M762.48,395.57 C762.76,395.09 762.98,394.59 763.32,394.12 C763.67,393.65 764.08,393.18 764.54,392.74 C765,392.31 765.52,391.89 766.07,391.51 C766.62,391.13 767.23,390.78 767.86,390.47 C768.48,390.16 769.15,389.89 769.82,389.66 C770.49,389.44 771.19,389.26 771.88,389.13 C772.57,389 773.27,388.92 773.94,388.89 C774.62,388.86 775.29,388.88 775.92,388.95 C776.55,389.03 777.17,389.15 777.73,389.32 C778.3,389.49 778.83,389.71 779.3,389.97 C779.77,390.23 780.2,390.54 780.55,390.88 C780.91,391.22 781.21,391.61 781.44,392.01 C781.67,392.42 781.83,392.86 781.93,393.31 C782.02,393.76 782.04,394.25 781.98,394.73 C781.93,395.21 781.81,395.71 781.62,396.2 C781.42,396.69 781.1,397.17 780.83,397.66" />
<ellipse class="l" cx="788.3" cy="403.3" rx="10.4" ry="7.1" transform="rotate(-16 788.3 403.3)"/>
<path class="h" d="M779.56,401.47 C779.86,400.97 780.09,400.46 780.45,399.98 C780.81,399.5 781.24,399.03 781.71,398.59 C782.18,398.16 782.72,397.74 783.29,397.37 C783.86,396.99 784.49,396.65 785.13,396.36 C785.77,396.06 786.45,395.81 787.13,395.61 C787.82,395.4 788.53,395.25 789.23,395.15 C789.93,395.05 790.64,394.99 791.33,395 C792.01,395 792.69,395.06 793.33,395.17 C793.97,395.27 794.59,395.43 795.16,395.64 C795.73,395.85 796.26,396.11 796.73,396.41 C797.2,396.71 797.63,397.06 797.98,397.43 C798.34,397.81 798.63,398.23 798.86,398.67 C799.08,399.11 799.24,399.58 799.32,400.06 C799.4,400.54 799.41,401.05 799.35,401.56 C799.28,402.06 799.14,402.58 798.94,403.09 C798.73,403.59 798.39,404.09 798.12,404.59" />
<ellipse class="l" cx="805.1" cy="412" rx="10.6" ry="7.6" transform="rotate(-13 805.1 412)"/>
<path class="h" d="M796.2,409.46 C796.52,408.95 796.78,408.42 797.17,407.93 C797.55,407.45 798.01,406.97 798.51,406.54 C799.02,406.11 799.58,405.7 800.18,405.34 C800.78,404.98 801.43,404.66 802.1,404.39 C802.76,404.12 803.47,403.89 804.18,403.72 C804.88,403.55 805.62,403.43 806.34,403.37 C807.06,403.31 807.79,403.3 808.48,403.35 C809.18,403.4 809.88,403.51 810.52,403.67 C811.17,403.82 811.8,404.04 812.37,404.3 C812.94,404.56 813.48,404.87 813.94,405.22 C814.41,405.57 814.83,405.97 815.18,406.39 C815.52,406.82 815.81,407.29 816.02,407.77 C816.23,408.25 816.37,408.77 816.43,409.29 C816.49,409.81 816.48,410.35 816.39,410.88 C816.31,411.42 816.15,411.96 815.91,412.49 C815.68,413.01 815.31,413.52 815.01,414.03" />
<ellipse class="l" cx="831.5" cy="347.8" rx="10.8" ry="2.1" transform="rotate(3 831.5 347.8)"/>
<path class="h" d="M821.17,346.15 C821.31,346.02 821.38,345.88 821.59,345.76 C821.81,345.64 822.09,345.52 822.44,345.41 C822.79,345.31 823.2,345.21 823.67,345.13 C824.14,345.04 824.67,344.97 825.24,344.91 C825.8,344.85 826.43,344.81 827.07,344.78 C827.71,344.75 828.41,344.73 829.1,344.73 C829.8,344.73 830.53,344.74 831.25,344.77 C831.96,344.8 832.7,344.84 833.42,344.89 C834.13,344.95 834.85,345.02 835.53,345.1 C836.2,345.18 836.87,345.28 837.49,345.38 C838.11,345.49 838.7,345.6 839.22,345.73 C839.75,345.85 840.24,345.98 840.66,346.12 C841.08,346.25 841.45,346.39 841.75,346.54 C842.04,346.68 842.27,346.83 842.43,346.97 C842.58,347.12 842.67,347.27 842.68,347.41 C842.7,347.55 842.56,347.68 842.5,347.82" />
<ellipse class="l" cx="848.6" cy="351.9" rx="11" ry="3.2" transform="rotate(4 848.6 351.9)"/>
<path class="h" d="M838.09,349.96 C838.24,349.76 838.32,349.54 838.55,349.35 C838.77,349.16 839.07,348.98 839.43,348.82 C839.79,348.65 840.22,348.5 840.7,348.37 C841.18,348.24 841.72,348.12 842.31,348.03 C842.89,347.94 843.53,347.86 844.18,347.81 C844.84,347.76 845.55,347.73 846.26,347.72 C846.97,347.71 847.71,347.73 848.45,347.76 C849.18,347.8 849.93,347.86 850.65,347.94 C851.38,348.01 852.11,348.12 852.79,348.23 C853.48,348.35 854.16,348.49 854.78,348.64 C855.41,348.8 856,348.97 856.53,349.15 C857.07,349.33 857.56,349.53 857.98,349.73 C858.4,349.93 858.77,350.15 859.06,350.36 C859.36,350.58 859.59,350.8 859.74,351.02 C859.89,351.24 859.97,351.47 859.98,351.68 C859.98,351.89 859.84,352.1 859.77,352.31" />
<ellipse class="l" cx="865.2" cy="358" rx="10.8" ry="4.1" transform="rotate(5 865.2 358)"/>
<path class="h" d="M854.91,355.81 C855.07,355.55 855.16,355.28 855.39,355.03 C855.62,354.79 855.92,354.56 856.28,354.34 C856.64,354.13 857.07,353.94 857.55,353.77 C858.03,353.6 858.57,353.45 859.14,353.33 C859.72,353.2 860.35,353.11 861,353.04 C861.65,352.97 862.35,352.93 863.05,352.91 C863.75,352.9 864.48,352.92 865.19,352.96 C865.91,353 866.65,353.08 867.36,353.17 C868.07,353.27 868.78,353.4 869.45,353.55 C870.12,353.7 870.78,353.87 871.39,354.06 C871.99,354.26 872.57,354.48 873.09,354.71 C873.61,354.94 874.08,355.19 874.49,355.44 C874.89,355.7 875.25,355.98 875.52,356.25 C875.8,356.52 876.02,356.81 876.16,357.09 C876.3,357.37 876.37,357.66 876.36,357.93 C876.36,358.2 876.21,358.47 876.13,358.74" />
<ellipse class="l" cx="882.3" cy="366.8" rx="10.6" ry="5.4" transform="rotate(6 882.3 366.8)"/>
<path class="h" d="M872.25,364.33 C872.42,363.99 872.52,363.63 872.76,363.31 C872.99,362.98 873.3,362.67 873.67,362.39 C874.03,362.11 874.47,361.85 874.95,361.62 C875.43,361.39 875.97,361.19 876.54,361.02 C877.11,360.85 877.74,360.71 878.39,360.62 C879.03,360.52 879.72,360.45 880.4,360.43 C881.09,360.4 881.81,360.42 882.52,360.46 C883.22,360.51 883.94,360.6 884.64,360.72 C885.33,360.84 886.02,361 886.68,361.19 C887.33,361.37 887.97,361.6 888.56,361.84 C889.14,362.09 889.7,362.37 890.2,362.66 C890.69,362.96 891.15,363.28 891.54,363.62 C891.92,363.95 892.25,364.31 892.51,364.66 C892.77,365.02 892.97,365.39 893.09,365.76 C893.22,366.13 893.27,366.5 893.25,366.86 C893.23,367.22 893.07,367.57 892.98,367.92" />
</g>
<g id="legoutline">
<path class="l" d="M1460.5,7.6 C1463,7.13 1465.15,6.53 1468,6.2 C1470.85,5.87 1474.43,5.63 1477.6,5.6 C1480.77,5.57 1483.72,5.7 1487,6 C1490.28,6.3 1492.97,6.53 1497.3,7.4 C1501.63,8.27 1507.52,9.67 1513,11.2 C1518.48,12.73 1524.7,14.6 1530.2,16.6 C1535.7,18.6 1540.53,20.73 1546,23.2 C1551.47,25.67 1554.67,27.05 1563,31.4 C1571.33,35.75 1585.03,43.27 1596,49.3 C1606.97,55.33 1617.85,61.55 1628.8,67.6 C1639.75,73.65 1653.17,81.13 1661.7,85.6 C1670.23,90.07 1673.95,91.67 1680,94.4 C1686.05,97.13 1692,99.47 1698,102" />
<path class="l" d="M1460.5,7.6 L1440.7,599.2 M1698,102 L1714.3,599.2" />
<path class="l" d="M1440.7,599.2 L1714.3,599.2 M1441.6,601.4 L1716.6,601.4 M1440.7,599.2 L1442.2,601.4 M1714.3,599.2 L1713,601.4" />
<path class="l" d="M1556.8,601.6 L1555.2,603.24 L1557.6,605.59 L1555.2,607.94 L1557.6,610.28 L1555.2,612.63 L1557.6,614.97 L1555.2,617.32 L1557.6,619.67 L1555.2,622.01 L1557.6,624.36 L1555.2,626.71 L1557.6,629.05 L1555.2,631.4 L1557.6,633.75 L1555.2,636.09 L1557.6,638.44 L1555.2,640.79 L1557.6,643.13 L1555.2,645.48 L1557.6,647.82 L1555.2,650.17 L1557.6,652.52 L1555.2,654.86 L1557.6,657.21 L1555.2,659.56 L1557.6,661.9 L1555.2,664.25 L1557.6,666.6 L1556.8,667.3" />
<path class="l" d="M1598.2,601.6 L1599.8,602.3 L1597.4,604.65 L1599.8,607 L1597.4,609.34 L1599.8,611.69 L1597.4,614.04 L1599.8,616.38 L1597.4,618.73 L1599.8,621.08 L1597.4,623.42 L1599.8,625.77 L1597.4,628.11 L1599.8,630.46 L1597.4,632.81 L1599.8,635.15 L1597.4,637.5 L1599.8,639.85 L1597.4,642.19 L1599.8,644.54 L1597.4,646.89 L1599.8,649.23 L1597.4,651.58 L1599.8,653.93 L1597.4,656.27 L1599.8,658.62 L1597.4,660.96 L1599.8,663.31 L1597.4,665.66 L1598.2,667.3" />
<path class="h" d="M1555.2,603.24 L1599.8,602.3 M1557.6,605.59 L1597.4,604.65 M1555.8,603.95 L1599,603.1 M1555.2,607.94 L1599.8,607 M1557.6,610.28 L1597.4,609.34 M1555.8,608.64 L1599,607.79 M1555.2,612.63 L1599.8,611.69 M1557.6,614.97 L1597.4,614.04 M1555.8,613.33 L1599,612.49 M1555.2,617.32 L1599.8,616.38 M1557.6,619.67 L1597.4,618.73 M1555.8,618.02 L1599,617.18 M1555.2,622.01 L1599.8,621.08 M1557.6,624.36 L1597.4,623.42 M1555.8,622.72 L1599,621.87 M1555.2,626.71 L1599.8,625.77 M1557.6,629.05 L1597.4,628.11 M1555.8,627.41 L1599,626.57 M1555.2,631.4 L1599.8,630.46 M1557.6,633.75 L1597.4,632.81 M1555.8,632.1 L1599,631.26 M1555.2,636.09 L1599.8,635.15 M1557.6,638.44 L1597.4,637.5 M1555.8,636.8 L1599,635.95 M1555.2,640.79 L1599.8,639.85 M1557.6,643.13 L1597.4,642.19 M1555.8,641.49 L1599,640.64 M1555.2,645.48 L1599.8,644.54 M1557.6,647.82 L1597.4,646.89 M1555.8,646.18 L1599,645.34 M1555.2,650.17 L1599.8,649.23 M1557.6,652.52 L1597.4,651.58 M1555.8,650.87 L1599,650.03 M1555.2,654.86 L1599.8,653.93 M1557.6,657.21 L1597.4,656.27 M1555.8,655.57 L1599,654.72 M1555.2,659.56 L1599.8,658.62 M1557.6,661.9 L1597.4,660.96 M1555.8,660.26 L1599,659.42 M1555.2,664.25 L1599.8,663.31 M1557.6,666.6 L1597.4,665.66 M1555.8,664.95 L1599,664.11 " />
<path class="l" d="M1556.8,667.3 L1598.2,667.3" />
</g>
<g id="sideview">
<path class="t" d="M1439.2,720 L1715.4,720" />
<path class="l" d="M1439.2,720 L1439.2,773.6 M1715.6,720 L1715.6,773.6 M1438.4,773.8 L1716,773.8" />
<rect x="1575.6" y="719" width="3.6" height="2.2" fill="#000"/>
<path class="l" d="M1439,774.4 C1435.33,777.93 1431.92,780.9 1428,785 C1424.08,789.1 1419.42,794.25 1415.5,799 C1411.58,803.75 1407.75,809 1404.5,813.5 C1401.25,818 1398.15,822.58 1396,826 C1393.85,829.42 1393.07,831.33 1391.6,834" />
<path class="h" d="M1443,774.4 C1439.33,777.93 1435.92,780.9 1432,785 C1428.08,789.1 1423.5,794.25 1419.5,799 C1415.5,803.75 1411.33,809 1408,813.5 C1404.67,818 1401.67,822.65 1399.5,826 C1397.33,829.35 1396.5,831.07 1395,833.6" />
<path class="l" d="M1391.6,824.5 L1391.6,834.6" />
<path class="l" d="M1715.6,773.8 L1726.2,782.2 L1726.2,788.8" />
<path class="h" d="M1711,774 L1722.6,783.2" />
<path class="l" d="M1726.2,788.6 C1729.47,792.07 1732.7,795.1 1736,799 C1739.3,802.9 1742.83,807.67 1746,812 C1749.17,816.33 1752.5,821.5 1755,825 C1757.5,828.5 1759.33,831.37 1761,833 C1762.67,834.63 1763.67,834.2 1765,834.8" />
<path class="l" d="M1346.4,835.2 L1809.4,835.2 L1809.4,844.6 L1807,844.6 L1807,851.6 L1346.4,851.6 Z" />
<path class="h" d="M1393.6,830.6 L1421.5,830.6 M1482.4,830.6 L1612.3,830.6 M1684,830.6 L1759.5,830.6" />
<path class="h" d="M1385,835.2 C1389,834.8 1391,833.4 1391.6,832 M1759.5,830.6 C1761.5,833.8 1764,835 1767,835.2" />
<path class="t2" d="M1421.7,834.8 C1423.8,831.53 1425.45,828.8 1428,825 C1430.55,821.2 1433.83,816.08 1437,812 C1440.17,807.92 1443.67,803.75 1447,800.5 C1450.33,797.25 1453.83,794.35 1457,792.5 C1460.17,790.65 1463.25,789.92 1466,789.4 C1468.75,788.88 1471.17,788.97 1473.5,789.4 C1475.83,789.83 1478.38,790.65 1480,792 C1481.62,793.35 1482.63,795.17 1483.2,797.5 C1483.77,799.83 1483.77,802.92 1483.4,806 C1483.03,809.08 1482.07,812.67 1481,816 C1479.93,819.33 1478.4,822.87 1477,826 C1475.6,829.13 1474.07,831.87 1472.6,834.8" />
<path class="t2" d="M1683,834.8 C1681,831.53 1679.5,828.8 1677,825 C1674.5,821.2 1671.17,816.08 1668,812 C1664.83,807.92 1661.33,803.75 1658,800.5 C1654.67,797.25 1651.17,794.35 1648,792.5 C1644.83,790.65 1641.75,789.92 1639,789.4 C1636.25,788.88 1633.83,788.97 1631.5,789.4 C1629.17,789.83 1627.95,789.73 1625,792 C1622.05,794.27 1616,799.67 1613.8,803 C1611.6,806.33 1612.1,808.67 1611.8,812 C1611.5,815.33 1611.63,819.2 1612,823 C1612.37,826.8 1613.33,830.87 1614,834.8" />
<path class="h" d="M1418,834.8 C1420,831.87 1422.33,828.3 1424,826 C1425.67,823.7 1426.67,822.67 1428,821" />
<path class="h" d="M1686.5,834.8 C1684.67,831.87 1682.58,828.3 1681,826 C1679.42,823.7 1678.33,822.67 1677,821" />
<path class="l" d="M1392,851.6 L1392,846.4 L1399,846.4 L1399,851.6 M1401.5,846.4 L1401.5,851.6 M1401.5,850.4 L1428,848.6 M1426,846.4 L1438.6,846.4 L1438.6,851.6 M1436,846.4 L1436,851.6" />
<path class="l" d="M1635.4,851.6 L1635.4,846.4 L1696,846.4 L1696,851.6 M1682.4,846.4 L1682.4,851.6 M1686.6,846.4 L1686.6,851.6 M1688.6,848 L1688.6,851.6" />
</g>
<g id="dims">
<path class="d" d="M54.9,596.4 L450,596.4 L795,416.5"/>
<polygon class="k" points="797.5,415.2 784,426.07 780.85,420.05"/>
<path class="d" d="M1336,361.7 L1083.5,361.7 L866,385"/>
<polygon class="k" points="864.5,385.2 882.06,380.1 882.74,386.46"/>
<path class="d" d="M615.2,497 L615.2,791 M1077.5,503 L1077.5,791 M615.2,785.3 L1077.5,785.3"/>
<polygon class="k" points="615.2,785.3 634.2,782.1 634.2,788.5"/>
<polygon class="k" points="1077.5,785.3 1058.5,788.5 1058.5,782.1"/>
<path class="d" d="M1370.5,437 L1370.5,702 M1376,601.4 L1441,601.4 M1376,667.1 L1557,667.1"/>
<polygon class="k" points="1370.5,601.4 1367.5,583.4 1373.5,583.4"/>
<polygon class="k" points="1370.5,667.1 1373.5,685.1 1367.5,685.1"/>
<path class="d" d="M1697.5,697.4 L1659.3,697.4 L1585,679.5"/>
<polygon class="k" points="1584,679.2 1604.22,680.69 1602.66,687.11"/>
</g>
<g id="texts" style="opacity:0.999">
<text transform="translate(0.35,411.60) scale(1.0725,1)" font-family='"Liberation Sans", Arial, sans-serif' font-size="42.03" fill="#000" >Vier vordefinierte Positionen</text>
<text transform="translate(0.76,470.20) scale(1.0532,1)" font-family='"Liberation Sans", Arial, sans-serif' font-size="42.03" fill="#000" >für die stabile Einstellung</text>
<text transform="translate(1.93,522.30) scale(1.0558,1)" font-family='"Liberation Sans", Arial, sans-serif' font-size="29.28" fill="#000" >Preset positioning spots to insure</text>
<text transform="translate(2.27,562.50) scale(1.0541,1)" font-family='"Liberation Sans", Arial, sans-serif' font-size="29.28" fill="#000" >correct adjustment and strength</text>
<circle cx="58.7" cy="634.7" r="3.1" fill="#000"/>
<text transform="translate(107.92,643.00) scale(1.1017,1)" font-family='"Liberation Sans", Arial, sans-serif' font-size="29.13" fill="#000" >0°</text>
<circle cx="58.7" cy="679.3" r="3.1" fill="#000"/>
<text transform="translate(107.62,687.60) scale(1.0835,1)" font-family='"Liberation Sans", Arial, sans-serif' font-size="29.13" fill="#000" >6,50°</text>
<circle cx="58.7" cy="725.9" r="3.1" fill="#000"/>
<text transform="translate(108.82,734.20) scale(1.0634,1)" font-family='"Liberation Sans", Arial, sans-serif' font-size="29.13" fill="#000" >13,50°</text>
<circle cx="58.7" cy="769.4" r="3.1" fill="#000"/>
<text transform="translate(107.61,777.70) scale(1.0936,1)" font-family='"Liberation Sans", Arial, sans-serif' font-size="29.13" fill="#000" >20°</text>
<text transform="translate(1090.10,350.50) scale(1.0398,1)" font-family='"Liberation Sans", Arial, sans-serif' font-size="30.00" fill="#000" >M8 thread</text>
<text transform="translate(1087.45,405.90) scale(1.0512,1)" font-family='"Liberation Sans", Arial, sans-serif' font-size="42.17" fill="#000" >M8 Gewinde</text>
<g transform="translate(0,0) rotate(-90)"><text transform="translate(-557.42,1354.90) scale(0.7839,1)" font-family='"Liberation Sans", Arial, sans-serif' font-size="32.17" fill="#000" >12 - 22 mm.</text></g>
<text transform="translate(842.07,778.50) scale(0.8257,1)" font-family='"Liberation Sans", Arial, sans-serif' font-size="31.16" fill="#000" >85</text>
<circle class="l" cx="828.4" cy="770.5" r="8.6"/><path class="l" d="M823.3,782.2 L833.4,758.6"/>
<text transform="translate(1658.02,677.80) scale(1.3262,1)" font-family='"DejaVu Sans Light", "DejaVu Sans", "Liberation Sans", sans-serif' font-size="26.30" fill="#1c1c1c" font-weight="200" stroke="#1c1c1c" stroke-width="0.5">M8</text>
<text transform="translate(36.20,1202.90) scale(0.9900,1)" font-family='"Liberation Sans", Arial, sans-serif' font-size="71.01" fill="#1a1718" >A</text>
<text transform="translate(472.15,1202.00) scale(0.9957,1)" font-family='"Liberation Sans", Arial, sans-serif' font-size="70.87" fill="#1a1718" >B</text>
<text transform="translate(934.51,1139.60) scale(0.9624,1)" font-family='"Liberation Sans", Arial, sans-serif' font-size="72.57" fill="#1a1718" >C</text>
<text transform="translate(1429.19,1139.00) scale(0.9673,1)" font-family='"Liberation Sans", Arial, sans-serif' font-size="71.16" fill="#1a1718" >D</text>
<text font-family='"Liberation Serif", "Times New Roman", serif' fill="#231f20" stroke="#231f20" stroke-width="0.35"><tspan x="1227.65" y="1196.30" font-size="52.31">X</tspan><tspan x="1264.10" y="1179.70" font-size="27.58">0</tspan></text>
<text font-family='"Liberation Serif", "Times New Roman", serif' fill="#2e2a2b" stroke="#2e2a2b" stroke-width="0.3"><tspan x="1042.89" y="1288.70" font-size="45.54" letter-spacing="0.64">X=</tspan> <tspan x="1111.98" y="1288.70" font-size="45.54">0</tspan><tspan x="1134.91" y="1273.90" font-size="27.27">0</tspan><tspan x="1146.98" y="1288.70" font-size="45.54">,</tspan> <tspan x="1167.18" y="1288.70" font-size="45.54" letter-spacing="-0.64">6.5</tspan><tspan x="1220.91" y="1273.90" font-size="27.27">0</tspan><tspan x="1235.98" y="1288.70" font-size="45.54">,</tspan><tspan x="1248.60" y="1288.70" font-size="45.54" letter-spacing="-0.16">13.5</tspan><tspan x="1325.91" y="1273.90" font-size="27.27">0</tspan><tspan x="1340.98" y="1288.70" font-size="45.54">,</tspan><tspan x="1351.58" y="1288.70" font-size="45.54" letter-spacing="0.70">20</tspan><tspan x="1396.91" y="1273.90" font-size="27.27">0</tspan></text>
</g>
</svg>
</body>
</html>
